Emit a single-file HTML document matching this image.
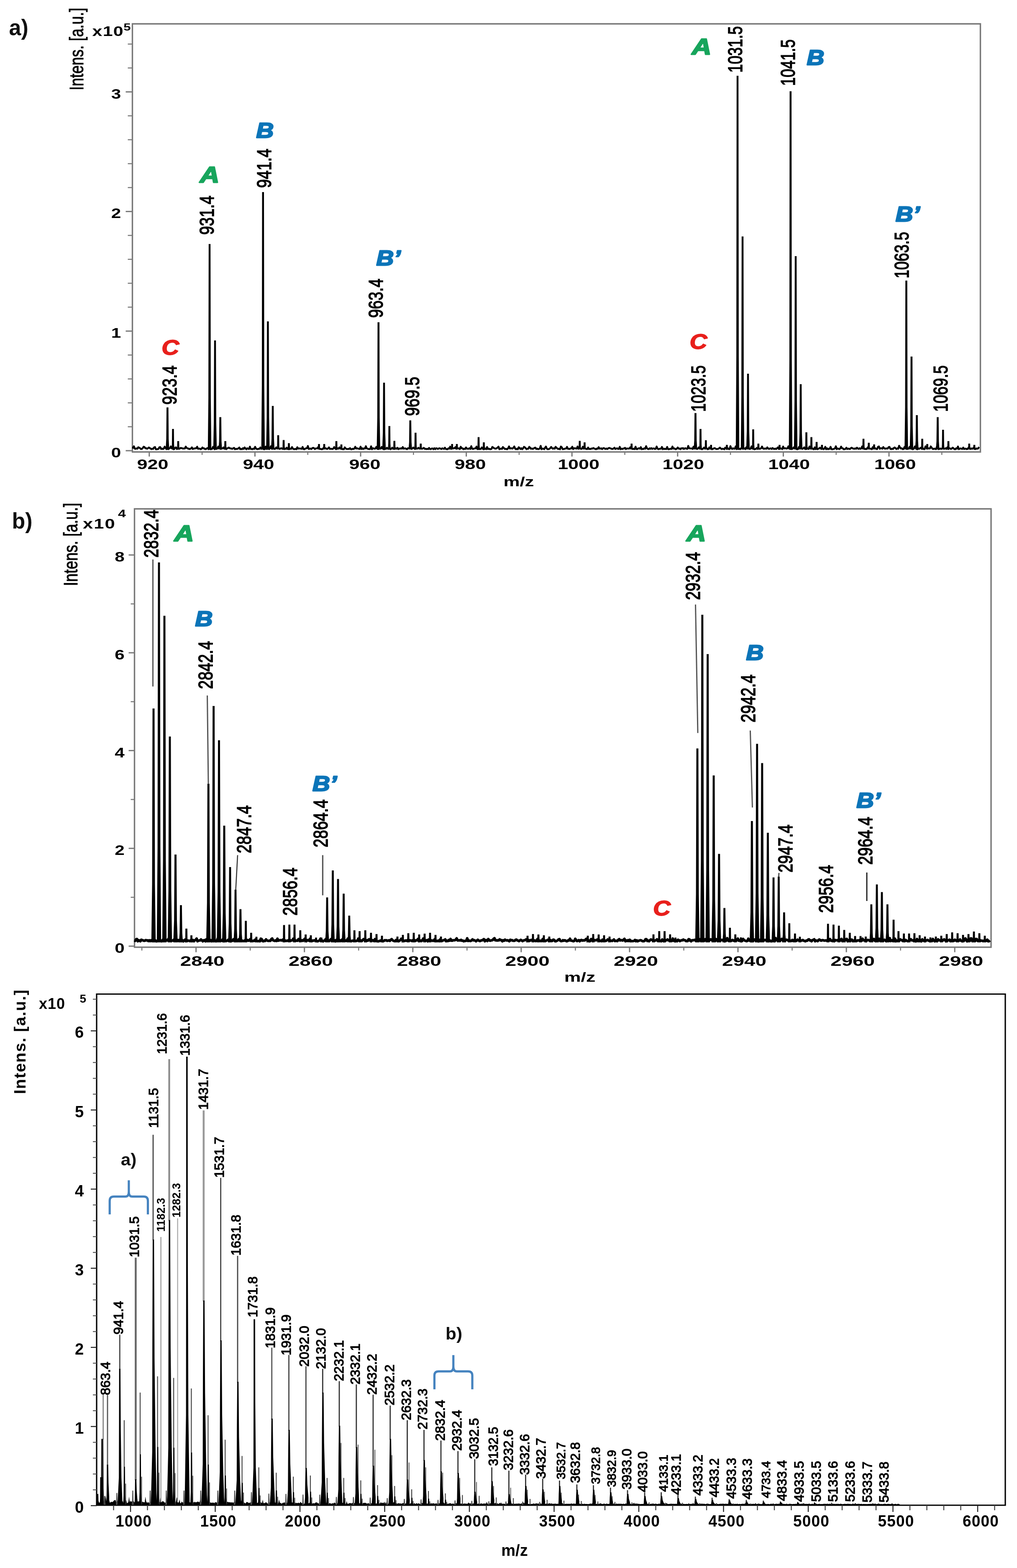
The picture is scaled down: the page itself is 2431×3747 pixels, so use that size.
<!DOCTYPE html>
<html lang="en"><head><meta charset="utf-8"><title>MALDI-TOF mass spectra</title>
<style>
html,body{margin:0;padding:0;background:#fff;}
body{width:2431px;height:3747px;overflow:hidden;}
svg{display:block;font-family:"Liberation Sans","DejaVu Sans",sans-serif;}
</style></head><body>
<svg width="2431" height="3747" viewBox="0 0 2431 3747">
<rect width="2431" height="3747" fill="#fff"/>
<g id="pa">
<path d="M316.5 1080 L316.5 57 L2343.5 57 L2343.5 1080 Z" fill="none" stroke="#787878" stroke-width="3.4"/>
<line x1="300.5" y1="1077" x2="316.5" y2="1077" stroke="#787878" stroke-width="3"/>
<line x1="305.5" y1="1019.8" x2="316.5" y2="1019.8" stroke="#787878" stroke-width="2.5"/>
<line x1="305.5" y1="962.7" x2="316.5" y2="962.7" stroke="#787878" stroke-width="2.5"/>
<line x1="305.5" y1="905.5" x2="316.5" y2="905.5" stroke="#787878" stroke-width="2.5"/>
<line x1="305.5" y1="848.4" x2="316.5" y2="848.4" stroke="#787878" stroke-width="2.5"/>
<line x1="300.5" y1="791.2" x2="316.5" y2="791.2" stroke="#787878" stroke-width="3"/>
<line x1="305.5" y1="734" x2="316.5" y2="734" stroke="#787878" stroke-width="2.5"/>
<line x1="305.5" y1="676.9" x2="316.5" y2="676.9" stroke="#787878" stroke-width="2.5"/>
<line x1="305.5" y1="619.7" x2="316.5" y2="619.7" stroke="#787878" stroke-width="2.5"/>
<line x1="305.5" y1="562.6" x2="316.5" y2="562.6" stroke="#787878" stroke-width="2.5"/>
<line x1="300.5" y1="505.4" x2="316.5" y2="505.4" stroke="#787878" stroke-width="3"/>
<line x1="305.5" y1="448.2" x2="316.5" y2="448.2" stroke="#787878" stroke-width="2.5"/>
<line x1="305.5" y1="391.1" x2="316.5" y2="391.1" stroke="#787878" stroke-width="2.5"/>
<line x1="305.5" y1="333.9" x2="316.5" y2="333.9" stroke="#787878" stroke-width="2.5"/>
<line x1="305.5" y1="276.8" x2="316.5" y2="276.8" stroke="#787878" stroke-width="2.5"/>
<line x1="300.5" y1="219.6" x2="316.5" y2="219.6" stroke="#787878" stroke-width="3"/>
<line x1="305.5" y1="162.4" x2="316.5" y2="162.4" stroke="#787878" stroke-width="2.5"/>
<line x1="305.5" y1="105.3" x2="316.5" y2="105.3" stroke="#787878" stroke-width="2.5"/>
<text transform="translate(277.5 1093) scale(1.3 1)" font-size="32.5" font-weight="bold" font-style="normal" fill="#000" text-anchor="middle" >0</text>
<text transform="translate(277.5 807.2) scale(1.3 1)" font-size="32.5" font-weight="bold" font-style="normal" fill="#000" text-anchor="middle" >1</text>
<text transform="translate(277.5 521.4) scale(1.3 1)" font-size="32.5" font-weight="bold" font-style="normal" fill="#000" text-anchor="middle" >2</text>
<text transform="translate(277.5 235.6) scale(1.3 1)" font-size="32.5" font-weight="bold" font-style="normal" fill="#000" text-anchor="middle" >3</text>
<line x1="356.8" y1="1080" x2="356.8" y2="1091" stroke="#787878" stroke-width="3"/>
<line x1="483.1" y1="1080" x2="483.1" y2="1087" stroke="#787878" stroke-width="2.5"/>
<line x1="609.4" y1="1080" x2="609.4" y2="1091" stroke="#787878" stroke-width="3"/>
<line x1="735.7" y1="1080" x2="735.7" y2="1087" stroke="#787878" stroke-width="2.5"/>
<line x1="862" y1="1080" x2="862" y2="1091" stroke="#787878" stroke-width="3"/>
<line x1="988.3" y1="1080" x2="988.3" y2="1087" stroke="#787878" stroke-width="2.5"/>
<line x1="1114.6" y1="1080" x2="1114.6" y2="1091" stroke="#787878" stroke-width="3"/>
<line x1="1240.9" y1="1080" x2="1240.9" y2="1087" stroke="#787878" stroke-width="2.5"/>
<line x1="1367.2" y1="1080" x2="1367.2" y2="1091" stroke="#787878" stroke-width="3"/>
<line x1="1493.5" y1="1080" x2="1493.5" y2="1087" stroke="#787878" stroke-width="2.5"/>
<line x1="1619.8" y1="1080" x2="1619.8" y2="1091" stroke="#787878" stroke-width="3"/>
<line x1="1746.1" y1="1080" x2="1746.1" y2="1087" stroke="#787878" stroke-width="2.5"/>
<line x1="1872.4" y1="1080" x2="1872.4" y2="1091" stroke="#787878" stroke-width="3"/>
<line x1="1998.7" y1="1080" x2="1998.7" y2="1087" stroke="#787878" stroke-width="2.5"/>
<line x1="2125" y1="1080" x2="2125" y2="1091" stroke="#787878" stroke-width="3"/>
<line x1="2251.3" y1="1080" x2="2251.3" y2="1087" stroke="#787878" stroke-width="2.5"/>
<text transform="translate(365 1121.3) scale(1.38 1)" font-size="32.5" font-weight="bold" font-style="normal" fill="#000" text-anchor="middle" >920</text>
<text transform="translate(618 1121.3) scale(1.38 1)" font-size="32.5" font-weight="bold" font-style="normal" fill="#000" text-anchor="middle" >940</text>
<text transform="translate(872 1121.3) scale(1.38 1)" font-size="32.5" font-weight="bold" font-style="normal" fill="#000" text-anchor="middle" >960</text>
<text transform="translate(1124 1121.3) scale(1.38 1)" font-size="32.5" font-weight="bold" font-style="normal" fill="#000" text-anchor="middle" >980</text>
<text transform="translate(1383 1121.3) scale(1.38 1)" font-size="32.5" font-weight="bold" font-style="normal" fill="#000" text-anchor="middle" >1000</text>
<text transform="translate(1633.3 1121.3) scale(1.38 1)" font-size="32.5" font-weight="bold" font-style="normal" fill="#000" text-anchor="middle" >1020</text>
<text transform="translate(1886 1121.3) scale(1.38 1)" font-size="32.5" font-weight="bold" font-style="normal" fill="#000" text-anchor="middle" >1040</text>
<text transform="translate(2139.6 1121.3) scale(1.38 1)" font-size="32.5" font-weight="bold" font-style="normal" fill="#000" text-anchor="middle" >1060</text>
<text transform="translate(1240 1162) scale(1.37 1)" font-size="32" font-weight="bold" font-style="normal" fill="#000" text-anchor="middle" >m/z</text>
<path d="M318 1072.3 L318 1068.9 L320.1 1066.6 L322.2 1072.3 L324.3 1072.5 L326.4 1071.5 L328.5 1072.3 L330.6 1068.7 L332.7 1069.9 L334.8 1071.2 L336.9 1073.1 L339 1072.8 L341.1 1071.1 L343.2 1067.6 L345.3 1068.2 L347.4 1071.4 L349.5 1071 L351.6 1072.4 L353.7 1071.2 L355.8 1069.3 L357.9 1070.6 L360 1072.1 L362.1 1073.2 L364.2 1072.3 L366.3 1072.7 L368.4 1069 L370.5 1068.2 L372.6 1073.6 L374.7 1073.6 L376.8 1073.2 L378.9 1072.8 L381 1068.7 L383.1 1068.4 L385.2 1073 L387.3 1072 L389.4 1073.2 L391.5 1072 L393.6 1067.4 L395.7 1070 L397.8 1073.4 L399.9 1072.2 L402 1073.5 L404.1 1072 L406.2 1070.8 L408.3 1066.7 L410.4 1071.2 L412.5 1071.9 L414.6 1073.5 L416.7 1073 L418.8 1069.6 L420.9 1069.2 L423 1073.1 L425.1 1071.5 L427.2 1072.5 L429.3 1072.2 L431.4 1070.5 L433.5 1070.6 L435.6 1071.3 L437.7 1072.1 L439.8 1071.6 L441.9 1071.7 L444 1067.2 L446.1 1070.4 L448.2 1071.5 L450.3 1072 L452.4 1073.2 L454.5 1072.7 L456.6 1071.6 L458.7 1069.2 L460.8 1073 L462.9 1071.9 L465 1071.8 L467.1 1071.2 L469.2 1071.2 L471.3 1067.5 L473.4 1072.6 L475.5 1072 L477.6 1072.2 L479.7 1073.5 L481.8 1072.3 L483.9 1069.2 L486 1071.5 L488.1 1071.4 L490.2 1073.4 L492.3 1073.1 L494.4 1071.6 L496.5 1070.6 L498.6 1073.4 L500.7 1071.5 L502.8 1073.5 L504.9 1073.3 L507 1072.6 L509.1 1067.9 L511.2 1071.1 L513.3 1073.5 L515.4 1071.6 L517.5 1072.8 L519.6 1071.7 L521.7 1067.3 L523.8 1071.8 L525.9 1071.5 L528 1072.9 L530.1 1071.2 L532.2 1071.6 L534.3 1069.2 L536.4 1072.6 L538.5 1071.7 L540.6 1073.4 L542.7 1071.5 L544.8 1071 L546.9 1069.4 L549 1071.2 L551.1 1071.5 L553.2 1072 L555.3 1072.5 L557.4 1071.3 L559.5 1070.2 L561.6 1073.5 L563.7 1072.7 L565.8 1072.8 L567.9 1072.5 L570 1071.4 L572.1 1069.4 L574.2 1073.4 L576.3 1072.8 L578.4 1073.5 L580.5 1071.1 L582.6 1072.7 L584.7 1069.2 L586.8 1071.8 L588.9 1073.6 L591 1071.2 L593.1 1072.4 L595.2 1072.9 L597.3 1067.4 L599.4 1072.8 L601.5 1073.1 L603.6 1073.4 L605.7 1071.9 L607.8 1072.8 L609.9 1067.7 L612 1072.1 L614.1 1073.1 L616.2 1073.2 L618.3 1072.5 L620.4 1072.6 L622.5 1069.3 L624.6 1072.6 L626.7 1071.2 L628.8 1072.7 L630.9 1073.6 L633 1073.3 L635.1 1067.2 L637.2 1072.9 L639.3 1072.5 L641.4 1072.1 L643.5 1073.2 L645.6 1071.2 L647.7 1066.2 L649.8 1072.6 L651.9 1072.3 L654 1071.6 L656.1 1072.8 L658.2 1072.3 L660.3 1069.1 L662.4 1071.7 L664.5 1071 L666.6 1071.8 L668.7 1072.8 L670.8 1071.5 L672.9 1071.1 L675 1072.7 L677.1 1072.1 L679.2 1073.3 L681.3 1071.9 L683.4 1072.7 L685.5 1069.7 L687.6 1073.1 L689.7 1073.4 L691.8 1073.3 L693.9 1072 L696 1072.5 L698.1 1068.4 L700.2 1072.3 L702.3 1073.2 L704.4 1073.2 L706.5 1072.8 L708.6 1073.5 L710.7 1068.7 L712.8 1072.2 L714.9 1071.7 L717 1071.6 L719.1 1072.1 L721.2 1072.6 L723.3 1068.1 L725.4 1073.2 L727.5 1073.6 L729.6 1072.2 L731.7 1071.2 L733.8 1071.1 L735.9 1065.7 L738 1072.8 L740.1 1072.5 L742.2 1071.8 L744.3 1073.1 L746.4 1071 L748.5 1070.1 L750.6 1071.1 L752.7 1073.2 L754.8 1071.6 L756.9 1071.4 L759 1071.1 L761.1 1067.8 L763.2 1072.6 L765.3 1072.7 L767.4 1073.1 L769.5 1073.5 L771.6 1072.8 L773.7 1069.8 L775.8 1071.5 L777.9 1071 L780 1072.2 L782.1 1072.9 L784.2 1071.5 L786.3 1069.2 L788.4 1072.8 L790.5 1072.4 L792.6 1072.6 L794.7 1073 L796.8 1072 L798.9 1068.3 L801 1071.2 L803.1 1073.4 L805.2 1072.9 L807.3 1071.3 L809.4 1072.2 L811.5 1069.1 L813.6 1072 L815.7 1072.5 L817.8 1073.3 L819.9 1073.1 L822 1073.5 L824.1 1069.1 L826.2 1071.5 L828.3 1072.9 L830.4 1073.1 L832.5 1072.7 L834.6 1072.9 L836.7 1070.9 L838.8 1073.5 L840.9 1073.5 L843 1072.4 L845.1 1073.1 L847.2 1071.8 L849.3 1067.6 L851.4 1071.9 L853.5 1071.2 L855.6 1072.1 L857.7 1072.4 L859.8 1073 L861.9 1067.4 L864 1073.1 L866.1 1071.2 L868.2 1073.1 L870.3 1071.4 L872.4 1071.9 L874.5 1066.3 L876.6 1071.4 L878.7 1072.3 L880.8 1072.9 L882.9 1073.2 L885 1072.8 L887.1 1066.5 L889.2 1073.5 L891.3 1071.2 L893.4 1071.6 L895.5 1072.4 L897.6 1071.8 L899.7 1067.9 L901.8 1072.4 L903.9 1073.2 L906 1072.5 L908.1 1071.8 L910.2 1072 L912.3 1068 L914.4 1071.5 L916.5 1073.2 L918.6 1073.5 L920.7 1072.4 L922.8 1072.5 L924.9 1070 L927 1072.3 L929.1 1072.6 L931.2 1071.1 L933.3 1073.5 L935.4 1072.3 L937.5 1069.8 L939.6 1072.5 L941.7 1072.3 L943.8 1072.8 L945.9 1071.2 L948 1072.4 L950.1 1070.1 L952.2 1073.4 L954.3 1071.7 L956.4 1072.2 L958.5 1071.3 L960.6 1072.1 L962.7 1068.2 L964.8 1072.2 L966.9 1071.8 L969 1071.5 L971.1 1072.6 L973.2 1073.4 L975.3 1070.9 L977.4 1071.1 L979.5 1071.5 L981.6 1071.6 L983.7 1072.8 L985.8 1071.8 L987.9 1069.5 L990 1071.3 L992.1 1072.9 L994.2 1071.3 L996.3 1072.3 L998.4 1071.7 L1000.5 1070 L1002.6 1072.1 L1004.7 1072 L1006.8 1072.1 L1008.9 1072.4 L1011 1071.4 L1013.1 1070.2 L1015.2 1072.7 L1017.3 1072.4 L1019.4 1073.2 L1021.5 1072.6 L1023.6 1073.2 L1025.7 1070.4 L1027.8 1073.1 L1029.9 1073.3 L1032 1071.8 L1034.1 1071.8 L1036.2 1073.4 L1038.3 1071.1 L1040.4 1073.3 L1042.5 1071.3 L1044.6 1071.6 L1046.7 1072.9 L1048.8 1071.7 L1050.9 1071.2 L1053 1072.1 L1055.1 1073.1 L1057.2 1071.3 L1059.3 1072 L1061.4 1072.8 L1063.5 1069.9 L1065.6 1072.8 L1067.7 1073.4 L1069.8 1073.5 L1071.9 1071.3 L1074 1072.3 L1076.1 1067.4 L1078.2 1072.8 L1080.3 1071.5 L1082.4 1071.2 L1084.5 1071.3 L1086.6 1071.1 L1088.7 1068.4 L1090.8 1072.5 L1092.9 1071.4 L1095 1071.5 L1097.1 1071.5 L1099.2 1073.2 L1101.3 1067.5 L1103.4 1071.2 L1105.5 1071.2 L1107.6 1073.5 L1109.7 1072.2 L1111.8 1073 L1113.9 1069.2 L1116 1072.3 L1118.1 1072.1 L1120.2 1072.6 L1122.3 1071 L1124.4 1072.8 L1126.5 1066.2 L1128.6 1072.2 L1130.7 1072.9 L1132.8 1072.1 L1134.9 1071.5 L1137 1071.4 L1139.1 1067.2 L1141.2 1073.3 L1143.3 1073.1 L1145.4 1072.8 L1147.5 1073.2 L1149.6 1072.6 L1151.7 1069.2 L1153.8 1072.3 L1155.9 1073.6 L1158 1073.1 L1160.1 1071.7 L1162.2 1073.4 L1164.3 1068.2 L1166.4 1073.1 L1168.5 1072.1 L1170.6 1073.3 L1172.7 1073.3 L1174.8 1072.8 L1176.9 1068 L1179 1069.6 L1181.1 1071.2 L1183.2 1071.9 L1185.3 1072.2 L1187.4 1071 L1189.5 1069.6 L1191.6 1067.3 L1193.7 1073.5 L1195.8 1072.7 L1197.9 1071.9 L1200 1072.7 L1202.1 1068.3 L1204.2 1070.3 L1206.3 1072.7 L1208.4 1072.8 L1210.5 1073 L1212.6 1073.5 L1214.7 1071 L1216.8 1066.8 L1218.9 1072 L1221 1071.1 L1223.1 1071.5 L1225.2 1072 L1227.3 1069.7 L1229.4 1066.9 L1231.5 1072.3 L1233.6 1073.5 L1235.7 1072.5 L1237.8 1073.6 L1239.9 1068.7 L1242 1070.7 L1244.1 1073 L1246.2 1071.1 L1248.3 1073.4 L1250.4 1071.4 L1252.5 1067.8 L1254.6 1068.9 L1256.7 1071.2 L1258.8 1073.5 L1260.9 1072.1 L1263 1072.4 L1265.1 1067.8 L1267.2 1069.9 L1269.3 1072.5 L1271.4 1071.7 L1273.5 1072.9 L1275.6 1071.8 L1277.7 1070.1 L1279.8 1069.7 L1281.9 1073 L1284 1072 L1286.1 1073.3 L1288.2 1072.9 L1290.3 1071.8 L1292.4 1065.4 L1294.5 1073.4 L1296.6 1072.1 L1298.7 1072.2 L1300.8 1073.5 L1302.9 1069.8 L1305 1067.2 L1307.1 1072.2 L1309.2 1073.5 L1311.3 1073.1 L1313.4 1072.6 L1315.5 1070.6 L1317.6 1068 L1319.7 1071.1 L1321.8 1072.4 L1323.9 1071.3 L1326 1072.2 L1328.1 1067.7 L1330.2 1069.8 L1332.3 1072.1 L1334.4 1073 L1336.5 1072.4 L1338.6 1073.6 L1340.7 1067.1 L1342.8 1068.7 L1344.9 1073.3 L1347 1073 L1349.1 1072.6 L1351.2 1071.9 L1353.3 1071.7 L1355.4 1067.9 L1357.5 1072.5 L1359.6 1072.6 L1361.7 1073 L1363.8 1071.5 L1365.9 1071.6 L1368 1067.5 L1370.1 1073.3 L1372.2 1071.1 L1374.3 1071.2 L1376.4 1071.7 L1378.5 1072.1 L1380.6 1067 L1382.7 1072.4 L1384.8 1071.2 L1386.9 1071.2 L1389 1072.8 L1391.1 1072.4 L1393.2 1067.6 L1395.3 1072.2 L1397.4 1071.5 L1399.5 1071.9 L1401.6 1072.9 L1403.7 1073.2 L1405.8 1069.5 L1407.9 1073.1 L1410 1072.6 L1412.1 1073 L1414.2 1071.6 L1416.3 1072.1 L1418.4 1070.4 L1420.5 1072 L1422.6 1072.7 L1424.7 1073.6 L1426.8 1071.8 L1428.9 1072.4 L1431 1068.5 L1433.1 1072.1 L1435.2 1072 L1437.3 1071.3 L1439.4 1073.3 L1441.5 1071.2 L1443.6 1070.6 L1445.7 1072.3 L1447.8 1072.8 L1449.9 1071.8 L1452 1073 L1454.1 1071.2 L1456.2 1070.3 L1458.3 1071.2 L1460.4 1071.8 L1462.5 1072.9 L1464.6 1072.8 L1466.7 1071.7 L1468.8 1069.8 L1470.9 1072.9 L1473 1072 L1475.1 1071.3 L1477.2 1072.8 L1479.3 1072.5 L1481.4 1067.8 L1483.5 1073.4 L1485.6 1072.1 L1487.7 1073.1 L1489.8 1071.8 L1491.9 1071.8 L1494 1070.1 L1496.1 1073.3 L1498.2 1071.6 L1500.3 1071.9 L1502.4 1072 L1504.5 1071.9 L1506.6 1068.7 L1508.7 1071.5 L1510.8 1072.5 L1512.9 1073.1 L1515 1072.4 L1517.1 1073.2 L1519.2 1067.4 L1521.3 1073 L1523.4 1073.3 L1525.5 1071.7 L1527.6 1071.1 L1529.7 1072.3 L1531.8 1068.5 L1533.9 1073.5 L1536 1072.7 L1538.1 1073.1 L1540.2 1071.2 L1542.3 1072.4 L1544.4 1066.2 L1546.5 1071.2 L1548.6 1072.9 L1550.7 1073.3 L1552.8 1071.2 L1554.9 1072.6 L1557 1070.8 L1559.1 1072.7 L1561.2 1071.6 L1563.3 1071.6 L1565.4 1073 L1567.5 1072.4 L1569.6 1067.1 L1571.7 1071.9 L1573.8 1073.5 L1575.9 1072.7 L1578 1072.3 L1580.1 1072.4 L1582.2 1068.1 L1584.3 1073.4 L1586.4 1072.1 L1588.5 1073.1 L1590.6 1072.7 L1592.7 1073.2 L1594.8 1068 L1596.9 1073.3 L1599 1073.5 L1601.1 1072.7 L1603.2 1072.4 L1605.3 1072.8 L1607.4 1067 L1609.5 1072.1 L1611.6 1071.4 L1613.7 1072.9 L1615.8 1073.6 L1617.9 1072 L1620 1069.3 L1622.1 1072.1 L1624.2 1071.8 L1626.3 1073.5 L1628.4 1071.2 L1630.5 1071.8 L1632.6 1070.7 L1634.7 1073 L1636.8 1071.5 L1638.9 1071.2 L1641 1072.2 L1643.1 1072.5 L1645.2 1065.5 L1647.3 1071.3 L1649.4 1071.5 L1651.5 1071.6 L1653.6 1071.6 L1655.7 1072.9 L1657.8 1067.4 L1659.9 1071.5 L1662 1071.7 L1664.1 1071.4 L1666.2 1073 L1668.3 1071.8 L1670.4 1069.2 L1672.5 1072.2 L1674.6 1071.7 L1676.7 1073.3 L1678.8 1073.4 L1680.9 1071.9 L1683 1069.5 L1685.1 1072.3 L1687.2 1071.6 L1689.3 1071.1 L1691.4 1073.5 L1693.5 1073.1 L1695.6 1069.1 L1697.7 1072.3 L1699.8 1071.7 L1701.9 1073.6 L1704 1072.7 L1706.1 1071.6 L1708.2 1070.7 L1710.3 1072 L1712.4 1073.1 L1714.5 1072.9 L1716.6 1072.6 L1718.7 1071.4 L1720.8 1069.6 L1722.9 1071.7 L1725 1073.3 L1727.1 1072.3 L1729.2 1072.7 L1731.3 1073.6 L1733.4 1069.7 L1735.5 1071.4 L1737.6 1073 L1739.7 1071 L1741.8 1073.1 L1743.9 1073.2 L1746 1066 L1748.1 1071.7 L1750.2 1072.9 L1752.3 1071.3 L1754.4 1072.2 L1756.5 1072.2 L1758.6 1066.7 L1760.7 1073.2 L1762.8 1071.8 L1764.9 1073.1 L1767 1072.1 L1769.1 1073.4 L1771.2 1071.2 L1773.3 1071.5 L1775.4 1072.4 L1777.5 1072.4 L1779.6 1071.4 L1781.7 1073.2 L1783.8 1068.9 L1785.9 1071.2 L1788 1071.8 L1790.1 1072.2 L1792.2 1072.9 L1794.3 1071.9 L1796.4 1066.7 L1798.5 1072 L1800.6 1072.2 L1802.7 1073.5 L1804.8 1073.2 L1806.9 1072.7 L1809 1070.4 L1811.1 1072.8 L1813.2 1071.6 L1815.3 1072.5 L1817.4 1072.2 L1819.5 1071 L1821.6 1067.1 L1823.7 1071.5 L1825.8 1072.6 L1827.9 1071.8 L1830 1072 L1832.1 1072.4 L1834.2 1069 L1836.3 1072 L1838.4 1072.7 L1840.5 1071.7 L1842.6 1071.5 L1844.7 1072.9 L1846.8 1070.5 L1848.9 1072.5 L1851 1072.9 L1853.1 1071.9 L1855.2 1073.1 L1857.3 1071.2 L1859.4 1069.1 L1861.5 1072.8 L1863.6 1072.8 L1865.7 1071.5 L1867.8 1072 L1869.9 1073.2 L1872 1067.1 L1874.1 1071.6 L1876.2 1071.4 L1878.3 1071.3 L1880.4 1072.1 L1882.5 1071.2 L1884.6 1066.5 L1886.7 1072.3 L1888.8 1072.7 L1890.9 1073 L1893 1073.1 L1895.1 1072 L1897.2 1069.1 L1899.3 1071 L1901.4 1072 L1903.5 1072.8 L1905.6 1073.6 L1907.7 1073.1 L1909.8 1068.1 L1911.9 1071 L1914 1071.9 L1916.1 1071.9 L1918.2 1072.7 L1920.3 1071.3 L1922.4 1069.1 L1924.5 1073.1 L1926.6 1073.1 L1928.7 1072.6 L1930.8 1071.4 L1932.9 1073 L1935 1066.9 L1937.1 1071.9 L1939.2 1072.3 L1941.3 1071.4 L1943.4 1072.9 L1945.5 1073.6 L1947.6 1069 L1949.7 1073.2 L1951.8 1071.5 L1953.9 1073.5 L1956 1072.6 L1958.1 1071.5 L1960.2 1069.8 L1962.3 1072.5 L1964.4 1072.8 L1966.5 1071.9 L1968.6 1073.4 L1970.7 1071.9 L1972.8 1067.7 L1974.9 1073.5 L1977 1071.4 L1979.1 1073.4 L1981.2 1072.4 L1983.3 1072.5 L1985.4 1067.7 L1987.5 1073.4 L1989.6 1073.6 L1991.7 1073.1 L1993.8 1072.6 L1995.9 1071.3 L1998 1066.5 L2000.1 1073.3 L2002.2 1071.6 L2004.3 1072.5 L2006.4 1073.2 L2008.5 1071.5 L2010.6 1067.2 L2012.7 1071.1 L2014.8 1071.5 L2016.9 1073.6 L2019 1073.4 L2021.1 1072.7 L2023.2 1069.9 L2025.3 1072.9 L2027.4 1072 L2029.5 1072.5 L2031.6 1073.1 L2033.7 1071 L2035.8 1069.8 L2037.9 1071.4 L2040 1072 L2042.1 1072.5 L2044.2 1071.5 L2046.3 1072.4 L2048.4 1069.8 L2050.5 1071.9 L2052.6 1072.7 L2054.7 1071.1 L2056.8 1072.7 L2058.9 1071.4 L2061 1066.7 L2063.1 1068.5 L2065.2 1072.6 L2067.3 1072.8 L2069.4 1073 L2071.5 1073 L2073.6 1069.9 L2075.7 1068 L2077.8 1072.1 L2079.9 1072.1 L2082 1072.5 L2084.1 1073.4 L2086.2 1068.5 L2088.3 1069.9 L2090.4 1071.8 L2092.5 1071.1 L2094.6 1072.9 L2096.7 1073.3 L2098.8 1067.8 L2100.9 1066.9 L2103 1072.5 L2105.1 1071.2 L2107.2 1071.3 L2109.3 1072.2 L2111.4 1068.3 L2113.5 1071.1 L2115.6 1072.4 L2117.7 1071.6 L2119.8 1071.8 L2121.9 1072 L2124 1068.6 L2126.1 1067.9 L2128.2 1072.7 L2130.3 1073.3 L2132.4 1072.1 L2134.5 1073.1 L2136.6 1070.4 L2138.7 1069.3 L2140.8 1071.3 L2142.9 1073.1 L2145 1071.3 L2147.1 1072.4 L2149.2 1065.2 L2151.3 1069.2 L2153.4 1071.8 L2155.5 1071.2 L2157.6 1073.3 L2159.7 1073.1 L2161.8 1068.6 L2163.9 1067 L2166 1071.1 L2168.1 1073.3 L2170.2 1071.8 L2172.3 1072.3 L2174.4 1067.8 L2176.5 1067.9 L2178.6 1071.8 L2180.7 1073.4 L2182.8 1073.3 L2184.9 1071.5 L2187 1066.7 L2189.1 1067.8 L2191.2 1073.3 L2193.3 1073.6 L2195.4 1071.5 L2197.5 1072.6 L2199.6 1070.9 L2201.7 1069.6 L2203.8 1072.9 L2205.9 1071.8 L2208 1073.3 L2210.1 1073.3 L2212.2 1066.6 L2214.3 1068.8 L2216.4 1072.2 L2218.5 1071.2 L2220.6 1071.6 L2222.7 1071.8 L2224.8 1066.8 L2226.9 1069.3 L2229 1072.7 L2231.1 1073.1 L2233.2 1072 L2235.3 1072.7 L2237.4 1073.3 L2239.5 1067.4 L2241.6 1071.8 L2243.7 1073.4 L2245.8 1072.7 L2247.9 1071.7 L2250 1072.7 L2252.1 1071.7 L2254.2 1072.1 L2256.3 1072.4 L2258.4 1072.4 L2260.5 1071.1 L2262.6 1072.6 L2264.7 1068.9 L2266.8 1073.1 L2268.9 1071.2 L2271 1071.7 L2273.1 1073 L2275.2 1071.6 L2277.3 1069.7 L2279.4 1071.5 L2281.5 1073.3 L2283.6 1073.6 L2285.7 1071.1 L2287.8 1072.2 L2289.9 1067.1 L2292 1073.4 L2294.1 1072.3 L2296.2 1071.5 L2298.3 1072.4 L2300.4 1072.7 L2302.5 1069.6 L2304.6 1073 L2306.7 1072.3 L2308.8 1072.3 L2310.9 1073.2 L2313 1072.8 L2315.1 1069.6 L2317.2 1071.5 L2319.3 1073 L2321.4 1071.4 L2323.5 1072.6 L2325.6 1071.6 L2327.7 1069.5 L2329.8 1073 L2331.9 1073.1 L2334 1071.6 L2336.1 1072.3 L2338.2 1071.6 L2340.3 1068.2" fill="none" stroke="#000" stroke-width="4.4" stroke-linejoin="round"/>
<path d="M398.1 973.5 L402.6 973.5 L403.2 1048.9 L404.5 1074 L396.1 1074 L397.4 1048.9Z M411.3 1025 L415.7 1025 L416.1 1061.8 L416.9 1074 L410.1 1074 L410.9 1061.8Z M423.8 1054 L428.2 1054 L428.6 1069 L429.4 1074 L422.6 1074 L423.4 1069Z M498.8 583 L503.2 583 L503.9 951.2 L505.2 1074 L496.8 1074 L498.1 951.2Z M511.8 813.6 L516.2 813.6 L516.9 1008.9 L518.2 1074 L509.8 1074 L511.1 1008.9Z M524.4 996.8 L528.9 996.8 L529.5 1054.7 L530.8 1074 L522.4 1074 L523.7 1054.7Z M536.4 1054 L540.8 1054 L541.2 1069 L542 1074 L535.2 1074 L536 1069Z M626.5 459 L631 459 L631.7 920.2 L633 1074 L624.6 1074 L625.9 920.2Z M638.1 768 L642.6 768 L643.3 997.5 L644.6 1074 L636.2 1074 L637.5 997.5Z M649.8 970 L654.2 970 L654.9 1048 L656.2 1074 L647.8 1074 L649.1 1048Z M662.8 1040 L667.2 1040 L667.6 1065.5 L668.4 1074 L661.6 1074 L662.4 1065.5Z M675.8 1051.6 L680.2 1051.6 L680.6 1068.4 L681.4 1074 L674.6 1074 L675.4 1068.4Z M688.3 1059 L692.7 1059 L693.1 1070.2 L693.9 1074 L687.1 1074 L687.9 1070.2Z M760.3 1061 L764.7 1061 L765.1 1070.8 L765.9 1074 L759.1 1074 L759.9 1070.8Z M772.8 1061 L777.2 1061 L777.6 1070.8 L778.4 1074 L771.6 1074 L772.4 1070.8Z M801.8 1054 L806.2 1054 L806.6 1069 L807.4 1074 L800.6 1074 L801.4 1069Z M813.8 1062 L818.2 1062 L818.6 1071 L819.4 1074 L812.6 1074 L813.4 1071Z M902.5 770 L907 770 L907.6 998 L908.9 1074 L900.5 1074 L901.8 998Z M915.8 914.4 L920.2 914.4 L920.9 1034.1 L922.2 1074 L913.8 1074 L915.1 1034.1Z M928.5 1018 L932.9 1018 L933.3 1060 L934.1 1074 L927.3 1074 L928.1 1060Z M940.5 1053.5 L944.9 1053.5 L945.3 1068.9 L946.1 1074 L939.3 1074 L940.1 1068.9Z M978.5 1004.6 L983 1004.6 L983.7 1056.7 L985 1074 L976.6 1074 L977.9 1056.7Z M991.1 1034 L995.5 1034 L995.9 1064 L996.7 1074 L989.9 1074 L990.7 1064Z M1003.5 1060 L1007.9 1060 L1008.3 1070.5 L1009.1 1074 L1002.3 1074 L1003.1 1070.5Z M1078.5 1061 L1082.9 1061 L1083.3 1070.8 L1084.1 1074 L1077.3 1074 L1078.1 1070.8Z M1089.8 1061 L1094.2 1061 L1094.6 1070.8 L1095.4 1074 L1088.6 1074 L1089.4 1070.8Z M1141.8 1044.6 L1146.2 1044.6 L1146.6 1066.7 L1147.4 1074 L1140.6 1074 L1141.4 1066.7Z M1154.3 1057 L1158.7 1057 L1159.1 1069.8 L1159.9 1074 L1153.1 1074 L1153.9 1069.8Z M1383.6 1053.5 L1388 1053.5 L1388.4 1068.9 L1389.2 1074 L1382.4 1074 L1383.2 1068.9Z M1395.2 1057 L1399.6 1057 L1400 1069.8 L1400.8 1074 L1394 1074 L1394.8 1069.8Z M1507.5 1060 L1511.9 1060 L1512.3 1070.5 L1513.1 1074 L1506.3 1074 L1507.1 1070.5Z M1660.2 987 L1664.7 987 L1665.3 1052.2 L1666.6 1074 L1658.2 1074 L1659.5 1052.2Z M1672.3 1025 L1676.7 1025 L1677.1 1061.8 L1677.9 1074 L1671.1 1074 L1671.9 1061.8Z M1685.1 1052 L1689.5 1052 L1689.9 1068.5 L1690.7 1074 L1683.9 1074 L1684.7 1068.5Z M1697.5 1063 L1701.9 1063 L1702.3 1071.2 L1703.1 1074 L1696.3 1074 L1697.1 1071.2Z M1735.2 1063 L1739.6 1063 L1740 1071.2 L1740.8 1074 L1734 1074 L1734.8 1071.2Z M1760.8 181 L1765.2 181 L1765.9 850.8 L1767.2 1074 L1758.8 1074 L1760.1 850.8Z M1772.8 565 L1777.2 565 L1777.9 946.8 L1779.2 1074 L1770.8 1074 L1772.1 946.8Z M1785.8 893 L1790.2 893 L1790.9 1028.8 L1792.2 1074 L1783.8 1074 L1785.1 1028.8Z M1798.2 1026 L1802.6 1026 L1803 1062 L1803.8 1074 L1797 1074 L1797.8 1062Z M1810.6 1060 L1815 1060 L1815.4 1070.5 L1816.2 1074 L1809.4 1074 L1810.2 1070.5Z M1861.2 1063 L1865.6 1063 L1866 1071.2 L1866.8 1074 L1860 1074 L1860.8 1071.2Z M1887.5 218 L1892 218 L1892.7 860 L1894 1074 L1885.6 1074 L1886.9 860Z M1899.8 612 L1904.2 612 L1904.9 958.5 L1906.2 1074 L1897.8 1074 L1899.1 958.5Z M1911.8 918 L1916.2 918 L1916.9 1035 L1918.2 1074 L1909.8 1074 L1911.1 1035Z M1925.3 1033 L1929.7 1033 L1930.1 1063.8 L1930.9 1074 L1924.1 1074 L1924.9 1063.8Z M1937.3 1044.6 L1941.7 1044.6 L1942.1 1066.7 L1942.9 1074 L1936.1 1074 L1936.9 1066.7Z M1949.8 1056 L1954.2 1056 L1954.6 1069.5 L1955.4 1074 L1948.6 1074 L1949.4 1069.5Z M1962.6 1063 L1967 1063 L1967.4 1071.2 L1968.2 1074 L1961.4 1074 L1962.2 1071.2Z M2061.8 1048.5 L2066.2 1048.5 L2066.6 1067.6 L2067.4 1074 L2060.6 1074 L2061.4 1067.6Z M2074.5 1058 L2078.9 1058 L2079.3 1070 L2080.1 1074 L2073.3 1074 L2074.1 1070Z M2087.3 1062 L2091.7 1062 L2092.1 1071 L2092.9 1074 L2086.1 1074 L2086.9 1071Z M2164.2 670.4 L2168.7 670.4 L2169.3 973.1 L2170.6 1074 L2162.2 1074 L2163.5 973.1Z M2176.6 852 L2181.1 852 L2181.7 1018.5 L2183 1074 L2174.6 1074 L2175.9 1018.5Z M2189.3 992 L2193.8 992 L2194.5 1053.5 L2195.8 1074 L2187.4 1074 L2188.7 1053.5Z M2202.3 1048.5 L2206.7 1048.5 L2207.1 1067.6 L2207.9 1074 L2201.1 1074 L2201.9 1067.6Z M2214.3 1061 L2218.7 1061 L2219.1 1070.8 L2219.9 1074 L2213.1 1074 L2213.9 1070.8Z M2239.2 996.8 L2243.7 996.8 L2244.3 1054.7 L2245.6 1074 L2237.2 1074 L2238.5 1054.7Z M2252 1027 L2256.4 1027 L2256.8 1062.2 L2257.6 1074 L2250.8 1074 L2251.6 1062.2Z M2264.8 1054 L2269.2 1054 L2269.6 1069 L2270.4 1074 L2263.6 1074 L2264.4 1069Z M2314.6 1060 L2319 1060 L2319.4 1070.5 L2320.2 1074 L2313.4 1074 L2314.2 1070.5Z M2326.8 1063 L2331.2 1063 L2331.6 1071.2 L2332.4 1074 L2325.6 1074 L2326.4 1071.2Z" fill="#000"/>
<text transform="translate(421.5 967) rotate(-90) scale(0.78 1)" font-size="48" font-weight="normal" fill="#000" stroke="#000" stroke-width="1.7">923.4</text>
<text transform="translate(510.9 561) rotate(-90) scale(0.78 1)" font-size="48" font-weight="normal" fill="#000" stroke="#000" stroke-width="1.7">931.4</text>
<text transform="translate(648.2 449) rotate(-90) scale(0.78 1)" font-size="48" font-weight="normal" fill="#000" stroke="#000" stroke-width="1.7">941.4</text>
<text transform="translate(915 759.6) rotate(-90) scale(0.78 1)" font-size="48" font-weight="normal" fill="#000" stroke="#000" stroke-width="1.7">963.4</text>
<text transform="translate(1001.5 994) rotate(-90) scale(0.78 1)" font-size="48" font-weight="normal" fill="#000" stroke="#000" stroke-width="1.7">969.5</text>
<text transform="translate(1773.5 173.5) rotate(-90) scale(0.755 1)" font-size="48" font-weight="normal" fill="#000" stroke="#000" stroke-width="1.7">1031.5</text>
<text transform="translate(1899.5 205) rotate(-90) scale(0.755 1)" font-size="48" font-weight="normal" fill="#000" stroke="#000" stroke-width="1.7">1041.5</text>
<text transform="translate(2171.5 665) rotate(-90) scale(0.755 1)" font-size="48" font-weight="normal" fill="#000" stroke="#000" stroke-width="1.7">1063.5</text>
<text transform="translate(1686 984) rotate(-90) scale(0.755 1)" font-size="48" font-weight="normal" fill="#000" stroke="#000" stroke-width="1.7">1023.5</text>
<text transform="translate(2265 984) rotate(-90) scale(0.755 1)" font-size="48" font-weight="normal" fill="#000" stroke="#000" stroke-width="1.7">1069.5</text>
<text transform="translate(407.1 847.5) scale(1.16 1)" font-size="50" font-weight="bold" font-style="italic" fill="#e8201c" text-anchor="middle" stroke="#e8201c" stroke-width="1.8" stroke-linejoin="round">C</text>
<text transform="translate(501 435.5) scale(1.22 1)" font-size="53" font-weight="bold" font-style="italic" fill="#17a55c" text-anchor="middle" stroke="#17a55c" stroke-width="2.8" stroke-linejoin="round">A</text>
<text transform="translate(633.5 329) scale(1.16 1)" font-size="50" font-weight="bold" font-style="italic" fill="#0b74b8" text-anchor="middle" stroke="#0b74b8" stroke-width="2.8" stroke-linejoin="round">B</text>
<text transform="translate(928.5 633.5) scale(1.16 1)" font-size="50" font-weight="bold" font-style="italic" fill="#0b74b8" text-anchor="middle" stroke="#0b74b8" stroke-width="2.8" stroke-linejoin="round">B’</text>
<text transform="translate(1677.2 129.5) scale(1.22 1)" font-size="53" font-weight="bold" font-style="italic" fill="#17a55c" text-anchor="middle" stroke="#17a55c" stroke-width="2.8" stroke-linejoin="round">A</text>
<text transform="translate(1949.5 155.3) scale(1.16 1)" font-size="50" font-weight="bold" font-style="italic" fill="#0b74b8" text-anchor="middle" stroke="#0b74b8" stroke-width="2.8" stroke-linejoin="round">B</text>
<text transform="translate(2169.8 528.5) scale(1.16 1)" font-size="50" font-weight="bold" font-style="italic" fill="#0b74b8" text-anchor="middle" stroke="#0b74b8" stroke-width="2.8" stroke-linejoin="round">B’</text>
<text transform="translate(1669.4 833.5) scale(1.16 1)" font-size="50" font-weight="bold" font-style="italic" fill="#e8201c" text-anchor="middle" stroke="#e8201c" stroke-width="1.8" stroke-linejoin="round">C</text>
<text transform="translate(21.5 83.5) scale(0.98 1)" font-size="53" font-weight="bold" font-style="normal" fill="#111" text-anchor="start" >a)</text>
<text transform="translate(198.5 216) rotate(-90) scale(0.78 1)" font-size="46" font-weight="normal" fill="#000" stroke="#000" stroke-width="1.1">Intens. [a.u.]</text>
<text transform="translate(220.5 86) scale(1.3 1)" font-size="33" font-weight="bold" font-style="normal" fill="#000" text-anchor="start" letter-spacing="1">x10</text>
<text transform="translate(304 73) scale(1.3 1)" font-size="24" font-weight="bold" font-style="normal" fill="#000" text-anchor="middle" >5</text>
</g>
<g id="pb">
<path d="M321.5 2263.5 L321.5 1216 L2369 1216 L2369 2263.5 Z" fill="none" stroke="#787878" stroke-width="3.4"/>
<line x1="307.5" y1="2261" x2="321.5" y2="2261" stroke="#787878" stroke-width="3"/>
<line x1="312.5" y1="2144.2" x2="321.5" y2="2144.2" stroke="#787878" stroke-width="2.5"/>
<line x1="307.5" y1="2027.3" x2="321.5" y2="2027.3" stroke="#787878" stroke-width="3"/>
<line x1="312.5" y1="1910.5" x2="321.5" y2="1910.5" stroke="#787878" stroke-width="2.5"/>
<line x1="307.5" y1="1793.6" x2="321.5" y2="1793.6" stroke="#787878" stroke-width="3"/>
<line x1="312.5" y1="1676.8" x2="321.5" y2="1676.8" stroke="#787878" stroke-width="2.5"/>
<line x1="307.5" y1="1559.9" x2="321.5" y2="1559.9" stroke="#787878" stroke-width="3"/>
<line x1="312.5" y1="1443.1" x2="321.5" y2="1443.1" stroke="#787878" stroke-width="2.5"/>
<line x1="307.5" y1="1326.2" x2="321.5" y2="1326.2" stroke="#787878" stroke-width="3"/>
<text transform="translate(286 2277) scale(1.3 1)" font-size="32.5" font-weight="bold" font-style="normal" fill="#000" text-anchor="middle" >0</text>
<text transform="translate(286 2043.3) scale(1.3 1)" font-size="32.5" font-weight="bold" font-style="normal" fill="#000" text-anchor="middle" >2</text>
<text transform="translate(286 1809.6) scale(1.3 1)" font-size="32.5" font-weight="bold" font-style="normal" fill="#000" text-anchor="middle" >4</text>
<text transform="translate(286 1575.9) scale(1.3 1)" font-size="32.5" font-weight="bold" font-style="normal" fill="#000" text-anchor="middle" >6</text>
<text transform="translate(286 1342.2) scale(1.3 1)" font-size="32.5" font-weight="bold" font-style="normal" fill="#000" text-anchor="middle" >8</text>
<line x1="339.1" y1="2263.5" x2="339.1" y2="2271.5" stroke="#787878" stroke-width="2.5"/>
<line x1="468.6" y1="2263.5" x2="468.6" y2="2275.5" stroke="#787878" stroke-width="3"/>
<line x1="598.1" y1="2263.5" x2="598.1" y2="2271.5" stroke="#787878" stroke-width="2.5"/>
<line x1="727.7" y1="2263.5" x2="727.7" y2="2275.5" stroke="#787878" stroke-width="3"/>
<line x1="857.2" y1="2263.5" x2="857.2" y2="2271.5" stroke="#787878" stroke-width="2.5"/>
<line x1="986.8" y1="2263.5" x2="986.8" y2="2275.5" stroke="#787878" stroke-width="3"/>
<line x1="1116.3" y1="2263.5" x2="1116.3" y2="2271.5" stroke="#787878" stroke-width="2.5"/>
<line x1="1245.8" y1="2263.5" x2="1245.8" y2="2275.5" stroke="#787878" stroke-width="3"/>
<line x1="1375.4" y1="2263.5" x2="1375.4" y2="2271.5" stroke="#787878" stroke-width="2.5"/>
<line x1="1504.9" y1="2263.5" x2="1504.9" y2="2275.5" stroke="#787878" stroke-width="3"/>
<line x1="1634.5" y1="2263.5" x2="1634.5" y2="2271.5" stroke="#787878" stroke-width="2.5"/>
<line x1="1764" y1="2263.5" x2="1764" y2="2275.5" stroke="#787878" stroke-width="3"/>
<line x1="1893.5" y1="2263.5" x2="1893.5" y2="2271.5" stroke="#787878" stroke-width="2.5"/>
<line x1="2023.1" y1="2263.5" x2="2023.1" y2="2275.5" stroke="#787878" stroke-width="3"/>
<line x1="2152.6" y1="2263.5" x2="2152.6" y2="2271.5" stroke="#787878" stroke-width="2.5"/>
<line x1="2282.2" y1="2263.5" x2="2282.2" y2="2275.5" stroke="#787878" stroke-width="3"/>
<text transform="translate(483.6 2308.3) scale(1.4 1)" font-size="34" font-weight="bold" font-style="normal" fill="#000" text-anchor="middle" >2840</text>
<text transform="translate(742.7 2308.3) scale(1.4 1)" font-size="34" font-weight="bold" font-style="normal" fill="#000" text-anchor="middle" >2860</text>
<text transform="translate(1001.8 2308.3) scale(1.4 1)" font-size="34" font-weight="bold" font-style="normal" fill="#000" text-anchor="middle" >2880</text>
<text transform="translate(1260.8 2308.3) scale(1.4 1)" font-size="34" font-weight="bold" font-style="normal" fill="#000" text-anchor="middle" >2900</text>
<text transform="translate(1519.9 2308.3) scale(1.4 1)" font-size="34" font-weight="bold" font-style="normal" fill="#000" text-anchor="middle" >2920</text>
<text transform="translate(1779 2308.3) scale(1.4 1)" font-size="34" font-weight="bold" font-style="normal" fill="#000" text-anchor="middle" >2940</text>
<text transform="translate(2038.1 2308.3) scale(1.4 1)" font-size="34" font-weight="bold" font-style="normal" fill="#000" text-anchor="middle" >2960</text>
<text transform="translate(2297.2 2308.3) scale(1.4 1)" font-size="34" font-weight="bold" font-style="normal" fill="#000" text-anchor="middle" >2980</text>
<text transform="translate(1386 2345.5) scale(1.4 1)" font-size="32" font-weight="bold" font-style="normal" fill="#000" text-anchor="middle" >m/z</text>
<path d="M323 2248 L323 2248.4 L325.1 2244.9 L327.2 2243.9 L329.3 2249.3 L331.4 2246.6 L333.5 2247.9 L335.6 2249.3 L337.7 2245.6 L339.8 2246.5 L341.9 2247.2 L344 2248.1 L346.1 2248.2 L348.2 2246.5 L350.3 2247.2 L352.4 2247.1 L354.5 2248.8 L356.6 2247 L358.7 2248.9 L360.8 2246.9 L362.9 2248.4 L365 2245 L367.1 2249.1 L369.2 2247.1 L371.3 2247.1 L373.4 2249.4 L375.5 2249.1 L377.6 2247.2 L379.7 2248.1 L381.8 2248.5 L383.9 2247.1 L386 2249.3 L388.1 2248.6 L390.2 2244.3 L392.3 2245.4 L394.4 2247 L396.5 2246.9 L398.6 2246.7 L400.7 2247.4 L402.8 2243.1 L404.9 2243.8 L407 2247.4 L409.1 2249 L411.2 2247.9 L413.3 2247.4 L415.4 2245.7 L417.5 2248.2 L419.6 2246.6 L421.7 2248.7 L423.8 2249 L425.9 2246.6 L428 2248.9 L430.1 2245.8 L432.2 2246.5 L434.3 2246.6 L436.4 2247 L438.5 2249.4 L440.6 2247.1 L442.7 2245.3 L444.8 2249.3 L446.9 2247.5 L449 2247.6 L451.1 2248.1 L453.2 2248.8 L455.3 2247.3 L457.4 2248.9 L459.5 2249.1 L461.6 2246.6 L463.7 2249.3 L465.8 2246.8 L467.9 2246 L470 2242.8 L472.1 2249.3 L474.2 2248.1 L476.3 2247.4 L478.4 2247.5 L480.5 2245 L482.6 2247 L484.7 2249.5 L486.8 2247 L488.9 2246.6 L491 2249.5 L493.1 2244.6 L495.2 2246.3 L497.3 2249 L499.4 2247.9 L501.5 2247.8 L503.6 2246.7 L505.7 2249.2 L507.8 2246.8 L509.9 2249 L512 2246.9 L514.1 2248.7 L516.2 2249.3 L518.3 2248.4 L520.4 2242.7 L522.5 2247.8 L524.6 2246.9 L526.7 2249 L528.8 2247.4 L530.9 2247.9 L533 2244.1 L535.1 2249.4 L537.2 2247.9 L539.3 2248 L541.4 2248.7 L543.5 2247.9 L545.6 2245.5 L547.7 2246 L549.8 2249.5 L551.9 2249.4 L554 2248.4 L556.1 2248 L558.2 2244.4 L560.3 2246.8 L562.4 2249.1 L564.5 2247.6 L566.6 2248.9 L568.7 2248.8 L570.8 2244.7 L572.9 2243.6 L575 2248.6 L577.1 2247.3 L579.2 2248 L581.3 2248.8 L583.4 2248.6 L585.5 2247.2 L587.6 2248.4 L589.7 2248.2 L591.8 2246.5 L593.9 2248.1 L596 2247.3 L598.1 2244.2 L600.2 2249 L602.3 2248.4 L604.4 2248.9 L606.5 2247.5 L608.6 2248.4 L610.7 2245 L612.8 2247.6 L614.9 2249 L617 2249.1 L619.1 2248.6 L621.2 2249.4 L623.3 2243.2 L625.4 2243.9 L627.5 2249 L629.6 2249.3 L631.7 2247.9 L633.8 2248.6 L635.9 2244.8 L638 2247.2 L640.1 2248.2 L642.2 2248.5 L644.3 2247.8 L646.4 2248.4 L648.5 2244.3 L650.6 2242.7 L652.7 2247 L654.8 2247.8 L656.9 2248.5 L659 2247.2 L661.1 2248.6 L663.2 2243.1 L665.3 2247.9 L667.4 2247.2 L669.5 2246.7 L671.6 2246.9 L673.7 2247.5 L675.8 2245.4 L677.9 2246.6 L680 2247.9 L682.1 2247.6 L684.2 2248.3 L686.3 2248.3 L688.4 2247.3 L690.5 2246.5 L692.6 2247.7 L694.7 2247.3 L696.8 2247.7 L698.9 2246.8 L701 2243.3 L703.1 2247.2 L705.2 2246.8 L707.3 2248.1 L709.4 2247.5 L711.5 2248.2 L713.6 2244.1 L715.7 2246.3 L717.8 2248.4 L719.9 2247.6 L722 2246.9 L724.1 2248.3 L726.2 2246.1 L728.3 2243.5 L730.4 2247.6 L732.5 2249.2 L734.6 2246.5 L736.7 2246.8 L738.8 2248.2 L740.9 2243.5 L743 2248.4 L745.1 2249.2 L747.2 2247.6 L749.3 2247.8 L751.4 2247.2 L753.5 2247.3 L755.6 2247.6 L757.7 2249.4 L759.8 2249.2 L761.9 2248.3 L764 2247.3 L766.1 2243.1 L768.2 2247.7 L770.3 2247.5 L772.4 2249.5 L774.5 2248 L776.6 2247.4 L778.7 2244 L780.8 2244.3 L782.9 2247.4 L785 2248.8 L787.1 2249 L789.2 2246.5 L791.3 2244.2 L793.4 2244.1 L795.5 2247.2 L797.6 2247.3 L799.7 2247 L801.8 2249.5 L803.9 2246.2 L806 2245.5 L808.1 2248.3 L810.2 2248.7 L812.3 2246.9 L814.4 2248.8 L816.5 2247.4 L818.6 2244.4 L820.7 2247.4 L822.8 2248.1 L824.9 2247.9 L827 2247.6 L829.1 2248.7 L831.2 2243.2 L833.3 2247.3 L835.4 2247.9 L837.5 2249.2 L839.6 2249.2 L841.7 2248.1 L843.8 2247.8 L845.9 2247.8 L848 2248.2 L850.1 2248.6 L852.2 2248.4 L854.3 2247.9 L856.4 2243 L858.5 2246.5 L860.6 2247.1 L862.7 2247.4 L864.8 2249 L866.9 2246.7 L869 2244.2 L871.1 2244.6 L873.2 2248.8 L875.3 2249.2 L877.4 2246.9 L879.5 2247.9 L881.6 2244.8 L883.7 2244.6 L885.8 2248.3 L887.9 2248.9 L890 2246.7 L892.1 2247.2 L894.2 2249 L896.3 2244.3 L898.4 2246.6 L900.5 2248.7 L902.6 2249.4 L904.7 2249.5 L906.8 2248.6 L908.9 2247.8 L911 2247.2 L913.1 2248.4 L915.2 2249.4 L917.3 2248.6 L919.4 2246.9 L921.5 2247.1 L923.6 2246.9 L925.7 2248.3 L927.8 2247.7 L929.9 2247 L932 2248.4 L934.1 2245.7 L936.2 2244.2 L938.3 2246.7 L940.4 2248.2 L942.5 2248.7 L944.6 2249.1 L946.7 2246.3 L948.8 2246 L950.9 2248 L953 2249.3 L955.1 2247.6 L957.2 2246.7 L959.3 2243.2 L961.4 2244.5 L963.5 2249.2 L965.6 2248.2 L967.7 2248.4 L969.8 2247.3 L971.9 2248.2 L974 2246.7 L976.1 2248.1 L978.2 2246.9 L980.3 2247.2 L982.4 2247.6 L984.5 2248.7 L986.6 2246.9 L988.7 2248.5 L990.8 2246.8 L992.9 2248.5 L995 2246.8 L997.1 2246.9 L999.2 2243.8 L1001.3 2249.1 L1003.4 2247.9 L1005.5 2247.5 L1007.6 2248.9 L1009.7 2246.6 L1011.8 2242.8 L1013.9 2247.8 L1016 2248.5 L1018.1 2247.2 L1020.2 2246.8 L1022.3 2249.4 L1024.4 2245.3 L1026.5 2246.8 L1028.6 2247.6 L1030.7 2247.2 L1032.8 2247.5 L1034.9 2248.3 L1037 2247.5 L1039.1 2244.4 L1041.2 2249 L1043.3 2248.4 L1045.4 2248.9 L1047.5 2247.8 L1049.6 2249.1 L1051.7 2245.2 L1053.8 2248.2 L1055.9 2248.7 L1058 2247.7 L1060.1 2246.8 L1062.2 2246.6 L1064.3 2244.8 L1066.4 2249.2 L1068.5 2247.9 L1070.6 2248.8 L1072.7 2246.5 L1074.8 2247.9 L1076.9 2243.8 L1079 2247.8 L1081.1 2247.9 L1083.2 2246.8 L1085.3 2247 L1087.4 2247 L1089.5 2245.2 L1091.6 2242.4 L1093.7 2247.3 L1095.8 2247.3 L1097.9 2247 L1100 2247.4 L1102.1 2246 L1104.2 2248.1 L1106.3 2247.6 L1108.4 2249.3 L1110.5 2248.6 L1112.6 2248.5 L1114.7 2247.9 L1116.8 2242.1 L1118.9 2248.5 L1121 2247.4 L1123.1 2248.5 L1125.2 2248.7 L1127.3 2247 L1129.4 2244.8 L1131.5 2247.2 L1133.6 2246.7 L1135.7 2247.7 L1137.8 2249.4 L1139.9 2247.6 L1142 2245.7 L1144.1 2247.3 L1146.2 2248.7 L1148.3 2248.7 L1150.4 2247 L1152.5 2247.2 L1154.6 2245.6 L1156.7 2244.2 L1158.8 2249.4 L1160.9 2246.5 L1163 2246.7 L1165.1 2248.8 L1167.2 2244 L1169.3 2246.3 L1171.4 2248.1 L1173.5 2247.6 L1175.6 2246.8 L1177.7 2246.7 L1179.8 2243.4 L1181.9 2241.9 L1184 2247.2 L1186.1 2246.7 L1188.2 2247.7 L1190.3 2246.7 L1192.4 2247.3 L1194.5 2244.8 L1196.6 2246.7 L1198.7 2246.6 L1200.8 2249.4 L1202.9 2247 L1205 2248 L1207.1 2245.5 L1209.2 2246.8 L1211.3 2247.4 L1213.4 2246.8 L1215.5 2248.1 L1217.6 2249.3 L1219.7 2245.7 L1221.8 2247.1 L1223.9 2246.6 L1226 2248.1 L1228.1 2248 L1230.2 2248.2 L1232.3 2245.9 L1234.4 2245.3 L1236.5 2247.4 L1238.6 2247.8 L1240.7 2249 L1242.8 2247.2 L1244.9 2246 L1247 2247.5 L1249.1 2249 L1251.2 2247.4 L1253.3 2246.9 L1255.4 2246.7 L1257.5 2244.8 L1259.6 2245.5 L1261.7 2247.2 L1263.8 2246.7 L1265.9 2248.6 L1268 2246.6 L1270.1 2247.1 L1272.2 2245.5 L1274.3 2246.8 L1276.4 2247.8 L1278.5 2247.4 L1280.6 2248.8 L1282.7 2248.2 L1284.8 2243.9 L1286.9 2248.8 L1289 2248.2 L1291.1 2247.8 L1293.2 2249 L1295.3 2248.5 L1297.4 2243.9 L1299.5 2248.6 L1301.6 2247.3 L1303.7 2248.9 L1305.8 2247.6 L1307.9 2246.9 L1310 2245.7 L1312.1 2246.5 L1314.2 2247.4 L1316.3 2246.7 L1318.4 2248.8 L1320.5 2248.2 L1322.6 2245.5 L1324.7 2246.1 L1326.8 2249.1 L1328.9 2249.3 L1331 2248.3 L1333.1 2247.2 L1335.2 2244.9 L1337.3 2244.2 L1339.4 2248.3 L1341.5 2249 L1343.6 2248.7 L1345.7 2246.8 L1347.8 2248.1 L1349.9 2246.9 L1352 2247.8 L1354.1 2249.3 L1356.2 2248.9 L1358.3 2246.9 L1360.4 2247.5 L1362.5 2243.2 L1364.6 2247.8 L1366.7 2247.8 L1368.8 2248.8 L1370.9 2249.3 L1373 2248.1 L1375.1 2243.4 L1377.2 2246.8 L1379.3 2248.9 L1381.4 2247.8 L1383.5 2246.7 L1385.6 2249.4 L1387.7 2247.1 L1389.8 2246.2 L1391.9 2247.7 L1394 2247.1 L1396.1 2247.3 L1398.2 2247.1 L1400.3 2244.3 L1402.4 2243.2 L1404.5 2247.6 L1406.6 2247.2 L1408.7 2249.4 L1410.8 2249 L1412.9 2244 L1415 2244.3 L1417.1 2249 L1419.2 2248 L1421.3 2246.6 L1423.4 2247 L1425.5 2246.8 L1427.6 2245.3 L1429.7 2247.1 L1431.8 2248.9 L1433.9 2247.5 L1436 2248.5 L1438.1 2249.1 L1440.2 2245.4 L1442.3 2247.6 L1444.4 2246.5 L1446.5 2248 L1448.6 2248.3 L1450.7 2247.1 L1452.8 2244.9 L1454.9 2246.6 L1457 2247.4 L1459.1 2247.6 L1461.2 2247.9 L1463.3 2248.6 L1465.4 2246.9 L1467.5 2245 L1469.6 2248.6 L1471.7 2248.5 L1473.8 2248.1 L1475.9 2248.9 L1478 2245.8 L1480.1 2244.3 L1482.2 2247.4 L1484.3 2246.7 L1486.4 2246.8 L1488.5 2247.6 L1490.6 2245.5 L1492.7 2243.6 L1494.8 2249.3 L1496.9 2247.3 L1499 2248.6 L1501.1 2246.7 L1503.2 2248.8 L1505.3 2245.7 L1507.4 2249.2 L1509.5 2248.6 L1511.6 2249 L1513.7 2248.7 L1515.8 2248.3 L1517.9 2246.2 L1520 2249.2 L1522.1 2247.2 L1524.2 2249.4 L1526.3 2248.1 L1528.4 2247.7 L1530.5 2246.7 L1532.6 2247 L1534.7 2248.5 L1536.8 2249.2 L1538.9 2249.2 L1541 2248.3 L1543.1 2244.3 L1545.2 2244.4 L1547.3 2248.6 L1549.4 2247.6 L1551.5 2249.2 L1553.6 2247.1 L1555.7 2245.1 L1557.8 2245.7 L1559.9 2247 L1562 2248.4 L1564.1 2248.8 L1566.2 2247.2 L1568.3 2246.9 L1570.4 2244.8 L1572.5 2248.7 L1574.6 2247.8 L1576.7 2247.8 L1578.8 2248.1 L1580.9 2249.2 L1583 2245.1 L1585.1 2248.3 L1587.2 2249.4 L1589.3 2247.1 L1591.4 2246.6 L1593.5 2246.8 L1595.6 2245.1 L1597.7 2247.1 L1599.8 2247.1 L1601.9 2248.3 L1604 2248.4 L1606.1 2248.6 L1608.2 2242.8 L1610.3 2248 L1612.4 2249 L1614.5 2249.4 L1616.6 2247.5 L1618.7 2249.1 L1620.8 2245.7 L1622.9 2246.7 L1625 2249 L1627.1 2247.9 L1629.2 2246.8 L1631.3 2247.1 L1633.4 2245.2 L1635.5 2246.7 L1637.6 2246.8 L1639.7 2248.8 L1641.8 2248.7 L1643.9 2248.9 L1646 2244.4 L1648.1 2244.7 L1650.2 2248.4 L1652.3 2249.4 L1654.4 2246.8 L1656.5 2246.8 L1658.6 2246.7 L1660.7 2245.8 L1662.8 2247.9 L1664.9 2248.5 L1667 2248.7 L1669.1 2246.8 L1671.2 2247.7 L1673.3 2244.5 L1675.4 2246.9 L1677.5 2248.3 L1679.6 2247.6 L1681.7 2248.6 L1683.8 2248 L1685.9 2244.5 L1688 2246.7 L1690.1 2248.8 L1692.2 2248.7 L1694.3 2247.4 L1696.4 2246.9 L1698.5 2244.6 L1700.6 2245.3 L1702.7 2247.6 L1704.8 2247.4 L1706.9 2248 L1709 2248.6 L1711.1 2244.1 L1713.2 2245.3 L1715.3 2249 L1717.4 2248.1 L1719.5 2246.7 L1721.6 2247.8 L1723.7 2246.5 L1725.8 2246 L1727.9 2246.8 L1730 2247.9 L1732.1 2249.5 L1734.2 2248.1 L1736.3 2247.7 L1738.4 2242 L1740.5 2247.6 L1742.6 2248.9 L1744.7 2246.5 L1746.8 2248.8 L1748.9 2247.6 L1751 2246.2 L1753.1 2247.9 L1755.2 2247.6 L1757.3 2248.1 L1759.4 2246.7 L1761.5 2247.2 L1763.6 2242.9 L1765.7 2247.9 L1767.8 2246.8 L1769.9 2247.3 L1772 2249.4 L1774.1 2248.6 L1776.2 2243.6 L1778.3 2246.3 L1780.4 2247.8 L1782.5 2248.3 L1784.6 2249.2 L1786.7 2248.4 L1788.8 2243.1 L1790.9 2247.7 L1793 2247.7 L1795.1 2249.1 L1797.2 2249 L1799.3 2249.2 L1801.4 2247 L1803.5 2245.2 L1805.6 2246.9 L1807.7 2248.8 L1809.8 2247.8 L1811.9 2249.4 L1814 2249.5 L1816.1 2245.9 L1818.2 2247.3 L1820.3 2247.9 L1822.4 2247.4 L1824.5 2248.5 L1826.6 2246.9 L1828.7 2246.2 L1830.8 2246.7 L1832.9 2247.6 L1835 2249.2 L1837.1 2249.2 L1839.2 2247.1 L1841.3 2247.9 L1843.4 2249.4 L1845.5 2248.3 L1847.6 2246.9 L1849.7 2247.2 L1851.8 2249.3 L1853.9 2241.8 L1856 2246 L1858.1 2247.3 L1860.2 2248.8 L1862.3 2247.6 L1864.4 2248.8 L1866.5 2246.4 L1868.6 2243.7 L1870.7 2246.8 L1872.8 2246.8 L1874.9 2248.4 L1877 2247.6 L1879.1 2245.5 L1881.2 2246.1 L1883.3 2247.2 L1885.4 2248.2 L1887.5 2247.3 L1889.6 2248.1 L1891.7 2248.7 L1893.8 2246.4 L1895.9 2248.6 L1898 2246.5 L1900.1 2248.8 L1902.2 2247.8 L1904.3 2248 L1906.4 2245.4 L1908.5 2246.7 L1910.6 2248 L1912.7 2246.6 L1914.8 2247.7 L1916.9 2247.5 L1919 2246.3 L1921.1 2247.9 L1923.2 2248.5 L1925.3 2249.3 L1927.4 2247.6 L1929.5 2248.1 L1931.6 2245.5 L1933.7 2244.7 L1935.8 2247.4 L1937.9 2247 L1940 2249.3 L1942.1 2246.7 L1944.2 2245.9 L1946.3 2244.6 L1948.4 2249.3 L1950.5 2247.4 L1952.6 2248.2 L1954.7 2249 L1956.8 2246 L1958.9 2245.2 L1961 2247.1 L1963.1 2247.9 L1965.2 2246.7 L1967.3 2246.8 L1969.4 2247.5 L1971.5 2247.8 L1973.6 2247.3 L1975.7 2247.3 L1977.8 2248.9 L1979.9 2248.7 L1982 2247.3 L1984.1 2244.1 L1986.2 2247.7 L1988.3 2248.4 L1990.4 2247.2 L1992.5 2247.3 L1994.6 2249.1 L1996.7 2246.4 L1998.8 2247 L2000.9 2246.9 L2003 2246.7 L2005.1 2248.7 L2007.2 2248.2 L2009.3 2245.6 L2011.4 2243.7 L2013.5 2249.1 L2015.6 2246.6 L2017.7 2248.3 L2019.8 2246.9 L2021.9 2244.4 L2024 2243.7 L2026.1 2249.3 L2028.2 2246.8 L2030.3 2246.7 L2032.4 2248.6 L2034.5 2245.3 L2036.6 2245.6 L2038.7 2249.2 L2040.8 2248.7 L2042.9 2246.7 L2045 2248.4 L2047.1 2249 L2049.2 2247.3 L2051.3 2247.3 L2053.4 2247.4 L2055.5 2246.5 L2057.6 2248.8 L2059.7 2248 L2061.8 2243.3 L2063.9 2247 L2066 2247.1 L2068.1 2247.3 L2070.2 2249.3 L2072.3 2247.1 L2074.4 2246.2 L2076.5 2246.7 L2078.6 2247.8 L2080.7 2248.4 L2082.8 2248.5 L2084.9 2247 L2087 2246.4 L2089.1 2244.1 L2091.2 2248.2 L2093.3 2249.2 L2095.4 2246.9 L2097.5 2247.3 L2099.6 2245.1 L2101.7 2243.6 L2103.8 2248.5 L2105.9 2247.8 L2108 2248.9 L2110.1 2249 L2112.2 2247.4 L2114.3 2245.8 L2116.4 2247.6 L2118.5 2249.2 L2120.6 2247.3 L2122.7 2248.4 L2124.8 2248.4 L2126.9 2242 L2129 2248.8 L2131.1 2247.5 L2133.2 2246.8 L2135.3 2248.4 L2137.4 2249 L2139.5 2243.3 L2141.6 2249.4 L2143.7 2247.7 L2145.8 2248.4 L2147.9 2248.7 L2150 2247.3 L2152.1 2244.9 L2154.2 2246.8 L2156.3 2246.7 L2158.4 2248.7 L2160.5 2247.7 L2162.6 2249.1 L2164.7 2246.2 L2166.8 2247.6 L2168.9 2248.9 L2171 2249.2 L2173.1 2248 L2175.2 2246.8 L2177.3 2244.5 L2179.4 2247.1 L2181.5 2247.4 L2183.6 2246.8 L2185.7 2248 L2187.8 2249.3 L2189.9 2249.3 L2192 2243.9 L2194.1 2248.8 L2196.2 2246.8 L2198.3 2248.1 L2200.4 2246.8 L2202.5 2249.5 L2204.6 2244.6 L2206.7 2247.3 L2208.8 2248.2 L2210.9 2249.4 L2213 2247.8 L2215.1 2247.1 L2217.2 2246.2 L2219.3 2247.6 L2221.4 2248.4 L2223.5 2249.3 L2225.6 2247.5 L2227.7 2248.9 L2229.8 2243.8 L2231.9 2246.7 L2234 2249.3 L2236.1 2247.9 L2238.2 2247.8 L2240.3 2249.3 L2242.4 2244.7 L2244.5 2246.6 L2246.6 2247.3 L2248.7 2247.9 L2250.8 2248.8 L2252.9 2248.3 L2255 2245.6 L2257.1 2244.9 L2259.2 2246.8 L2261.3 2249.5 L2263.4 2246.9 L2265.5 2247 L2267.6 2246.8 L2269.7 2245.6 L2271.8 2249.1 L2273.9 2247 L2276 2248.6 L2278.1 2246.8 L2280.2 2248.2 L2282.3 2245.6 L2284.4 2246.7 L2286.5 2248.7 L2288.6 2246.9 L2290.7 2248.8 L2292.8 2247.5 L2294.9 2245.1 L2297 2248 L2299.1 2249.1 L2301.2 2249.3 L2303.3 2247.3 L2305.4 2247.5 L2307.5 2242.4 L2309.6 2245.1 L2311.7 2249.4 L2313.8 2246.9 L2315.9 2248.5 L2318 2248.8 L2320.1 2242.6 L2322.2 2242.7 L2324.3 2249.1 L2326.4 2248.5 L2328.5 2247.8 L2330.6 2249 L2332.7 2243.8 L2334.8 2244.1 L2336.9 2248.6 L2339 2248.3 L2341.1 2248.9 L2343.2 2247 L2345.3 2248 L2347.4 2247.9 L2349.5 2248.8 L2351.6 2249 L2353.7 2246.6 L2355.8 2248.1 L2357.9 2247.9 L2360 2245.6 L2362.1 2249.4 L2364.2 2249.1 L2366.3 2247.2" fill="none" stroke="#000" stroke-width="6.2" stroke-linejoin="round"/>
<path d="M364.6 1693 L369.4 1693 L370.4 2112.2 L372.2 2252 L361.8 2252 L363.6 2112.2Z M377.6 1344 L382.4 1344 L383.4 2025 L385.2 2252 L374.8 2252 L376.6 2025Z M390.6 1471.5 L395.4 1471.5 L396.4 2056.9 L398.2 2252 L387.8 2252 L389.6 2056.9Z M403.6 1760 L408.4 1760 L409.4 2129 L411.2 2252 L400.8 2252 L402.6 2129Z M417.1 2042 L421.9 2042 L422.9 2199.5 L424.8 2252 L414.2 2252 L416.1 2199.5Z M430.2 2163 L434.8 2163 L435.7 2229.8 L437.2 2252 L427.8 2252 L429.3 2229.8Z M443.2 2219 L447.8 2219 L448.2 2243.8 L449 2252 L442 2252 L442.8 2243.8Z M455.2 2235 L459.8 2235 L460.2 2247.8 L461 2252 L454 2252 L454.8 2247.8Z M495.8 1873 L500.6 1873 L501.6 2157.2 L503.4 2252 L492.9 2252 L494.8 2157.2Z M508.2 1687 L513 1687 L514 2110.8 L515.9 2252 L505.4 2252 L507.2 2110.8Z M521.1 1769 L525.9 1769 L526.9 2131.2 L528.8 2252 L518.2 2252 L520.1 2131.2Z M533.6 1973 L538.4 1973 L539.4 2182.2 L541.2 2252 L530.8 2252 L532.6 2182.2Z M547.7 2072 L552.3 2072 L553.2 2207 L554.8 2252 L545.2 2252 L546.8 2207Z M560.7 2126 L565.3 2126 L566.2 2220.5 L567.8 2252 L558.2 2252 L559.8 2220.5Z M572.5 2172.5 L577.1 2172.5 L578 2232.1 L579.5 2252 L570 2252 L571.6 2232.1Z M585.3 2200.5 L589.9 2200.5 L590.3 2239.1 L591.1 2252 L584.1 2252 L584.9 2239.1Z M598.1 2229 L602.7 2229 L603.1 2246.2 L603.9 2252 L596.9 2252 L597.7 2246.2Z M610.6 2238.6 L615.2 2238.6 L615.6 2248.7 L616.4 2252 L609.4 2252 L610.2 2248.7Z M676.7 2210.6 L681.3 2210.6 L681.7 2241.7 L682.5 2252 L675.5 2252 L676.3 2241.7Z M689.4 2209.5 L694 2209.5 L694.4 2241.4 L695.2 2252 L688.2 2252 L689 2241.4Z M701.7 2209.5 L706.3 2209.5 L706.7 2241.4 L707.5 2252 L700.5 2252 L701.3 2241.4Z M715.5 2223 L720.1 2223 L720.5 2244.8 L721.3 2252 L714.3 2252 L715.1 2244.8Z M728.3 2233 L732.9 2233 L733.3 2247.2 L734.1 2252 L727.1 2252 L727.9 2247.2Z M740.7 2235 L745.3 2235 L745.7 2247.8 L746.5 2252 L739.5 2252 L740.3 2247.8Z M753.2 2240.5 L757.8 2240.5 L758.2 2249.1 L759 2252 L752 2252 L752.8 2249.1Z M766 2240.5 L770.6 2240.5 L771 2249.1 L771.8 2252 L764.8 2252 L765.6 2249.1Z M779.7 2144.5 L784.3 2144.5 L785.2 2225.1 L786.8 2252 L777.2 2252 L778.8 2225.1Z M793.2 2080 L797.8 2080 L798.7 2209 L800.2 2252 L790.8 2252 L792.3 2209Z M805.7 2100.6 L810.3 2100.6 L811.2 2214.2 L812.8 2252 L803.2 2252 L804.8 2214.2Z M819.2 2135.6 L823.8 2135.6 L824.7 2222.9 L826.2 2252 L816.8 2252 L818.3 2222.9Z M832.5 2188 L837.1 2188 L838 2236 L839.5 2252 L830 2252 L831.6 2236Z M844.9 2223 L849.5 2223 L849.9 2244.8 L850.7 2252 L843.7 2252 L844.5 2244.8Z M857.3 2225 L861.9 2225 L862.3 2245.2 L863.1 2252 L856.1 2252 L856.9 2245.2Z M870.9 2223 L875.5 2223 L875.9 2244.8 L876.7 2252 L869.7 2252 L870.5 2244.8Z M884.5 2229 L889.1 2229 L889.5 2246.2 L890.3 2252 L883.3 2252 L884.1 2246.2Z M897.7 2232 L902.3 2232 L902.7 2247 L903.5 2252 L896.5 2252 L897.3 2247Z M910.7 2236 L915.3 2236 L915.7 2248 L916.5 2252 L909.5 2252 L910.3 2248Z M947.7 2238 L952.3 2238 L952.7 2248.5 L953.5 2252 L946.5 2252 L947.3 2248.5Z M960.7 2234 L965.3 2234 L965.7 2247.5 L966.5 2252 L959.5 2252 L960.3 2247.5Z M973.7 2230 L978.3 2230 L978.7 2246.5 L979.5 2252 L972.5 2252 L973.3 2246.5Z M986.7 2229 L991.3 2229 L991.7 2246.2 L992.5 2252 L985.5 2252 L986.3 2246.2Z M999.7 2233 L1004.3 2233 L1004.7 2247.2 L1005.5 2252 L998.5 2252 L999.3 2247.2Z M1012.7 2231 L1017.3 2231 L1017.7 2246.8 L1018.5 2252 L1011.5 2252 L1012.3 2246.8Z M1025.7 2229 L1030.3 2229 L1030.7 2246.2 L1031.5 2252 L1024.5 2252 L1025.3 2246.2Z M1038.7 2234 L1043.3 2234 L1043.7 2247.5 L1044.5 2252 L1037.5 2252 L1038.3 2247.5Z M1051.7 2238 L1056.3 2238 L1056.7 2248.5 L1057.5 2252 L1050.5 2252 L1051.3 2248.5Z M1258.7 2236 L1263.3 2236 L1263.7 2248 L1264.5 2252 L1257.5 2252 L1258.3 2248Z M1271.7 2232 L1276.3 2232 L1276.7 2247 L1277.5 2252 L1270.5 2252 L1271.3 2247Z M1284.7 2233 L1289.3 2233 L1289.7 2247.2 L1290.5 2252 L1283.5 2252 L1284.3 2247.2Z M1297.7 2235 L1302.3 2235 L1302.7 2247.8 L1303.5 2252 L1296.5 2252 L1297.3 2247.8Z M1310.7 2238 L1315.3 2238 L1315.7 2248.5 L1316.5 2252 L1309.5 2252 L1310.3 2248.5Z M1402.7 2236 L1407.3 2236 L1407.7 2248 L1408.5 2252 L1401.5 2252 L1402.3 2248Z M1415.7 2232 L1420.3 2232 L1420.7 2247 L1421.5 2252 L1414.5 2252 L1415.3 2247Z M1428.7 2233 L1433.3 2233 L1433.7 2247.2 L1434.5 2252 L1427.5 2252 L1428.3 2247.2Z M1441.7 2235 L1446.3 2235 L1446.7 2247.8 L1447.5 2252 L1440.5 2252 L1441.3 2247.8Z M1454.7 2238 L1459.3 2238 L1459.7 2248.5 L1460.5 2252 L1453.5 2252 L1454.3 2248.5Z M1559.7 2232.8 L1564.3 2232.8 L1564.7 2247.2 L1565.5 2252 L1558.5 2252 L1559.3 2247.2Z M1573.5 2225 L1578.1 2225 L1578.5 2245.2 L1579.3 2252 L1572.3 2252 L1573.1 2245.2Z M1586.3 2225 L1590.9 2225 L1591.3 2245.2 L1592.1 2252 L1585.1 2252 L1585.9 2245.2Z M1599.5 2232.8 L1604.1 2232.8 L1604.5 2247.2 L1605.3 2252 L1598.3 2252 L1599.1 2247.2Z M1612.3 2240.5 L1616.9 2240.5 L1617.3 2249.1 L1618.1 2252 L1611.1 2252 L1611.9 2249.1Z M1664.6 1788.5 L1669.4 1788.5 L1670.4 2136.1 L1672.2 2252 L1661.8 2252 L1663.6 2136.1Z M1676.4 1469 L1681.2 1469 L1682.2 2056.2 L1684 2252 L1673.5 2252 L1675.4 2056.2Z M1689.2 1563 L1694 1563 L1695 2079.8 L1696.8 2252 L1686.3 2252 L1688.2 2079.8Z M1703.6 1853 L1708.4 1853 L1709.4 2152.2 L1711.2 2252 L1700.8 2252 L1702.6 2152.2Z M1716.4 2040.4 L1721.2 2040.4 L1722.2 2199.1 L1724 2252 L1713.5 2252 L1715.4 2199.1Z M1729.3 2169.8 L1733.9 2169.8 L1734.8 2231.4 L1736.3 2252 L1726.8 2252 L1728.4 2231.4Z M1742.5 2217 L1747.1 2217 L1747.5 2243.2 L1748.3 2252 L1741.3 2252 L1742.1 2243.2Z M1755.4 2232.8 L1760 2232.8 L1760.4 2247.2 L1761.2 2252 L1754.2 2252 L1755 2247.2Z M1768.7 2240 L1773.3 2240 L1773.7 2249 L1774.5 2252 L1767.5 2252 L1768.3 2249Z M1794.9 1961.9 L1799.7 1961.9 L1800.7 2179.5 L1802.5 2252 L1792 2252 L1793.9 2179.5Z M1807.3 1777.6 L1812.1 1777.6 L1813.1 2133.4 L1815 2252 L1804.5 2252 L1806.3 2133.4Z M1819.4 1823.5 L1824.2 1823.5 L1825.2 2144.9 L1827 2252 L1816.5 2252 L1818.4 2144.9Z M1833 1989.9 L1837.8 1989.9 L1838.8 2186.5 L1840.7 2252 L1830.2 2252 L1832 2186.5Z M1846.7 2096.7 L1851.3 2096.7 L1852.2 2213.2 L1853.8 2252 L1844.2 2252 L1845.8 2213.2Z M1859.1 2094.8 L1863.7 2094.8 L1864.6 2212.7 L1866.2 2252 L1856.7 2252 L1858.2 2212.7Z M1872 2180.3 L1876.6 2180.3 L1877.5 2234.1 L1879 2252 L1869.5 2252 L1871.1 2234.1Z M1884.4 2206.3 L1889 2206.3 L1889.4 2240.6 L1890.2 2252 L1883.2 2252 L1884 2240.6Z M1898 2230.8 L1902.6 2230.8 L1903 2246.7 L1903.8 2252 L1896.8 2252 L1897.6 2246.7Z M1909.7 2238.6 L1914.3 2238.6 L1914.7 2248.7 L1915.5 2252 L1908.5 2252 L1909.3 2248.7Z M1976.9 2207.5 L1981.5 2207.5 L1981.9 2240.9 L1982.7 2252 L1975.7 2252 L1976.5 2240.9Z M1990.1 2209.4 L1994.7 2209.4 L1995.1 2241.3 L1995.9 2252 L1988.9 2252 L1989.7 2241.3Z M2002.9 2212 L2007.5 2212 L2007.9 2242 L2008.7 2252 L2001.7 2252 L2002.5 2242Z M2015.7 2222.3 L2020.3 2222.3 L2020.7 2244.6 L2021.5 2252 L2014.5 2252 L2015.3 2244.6Z M2029 2229 L2033.6 2229 L2034 2246.2 L2034.8 2252 L2027.8 2252 L2028.6 2246.2Z M2041.7 2236.7 L2046.3 2236.7 L2046.7 2248.2 L2047.5 2252 L2040.5 2252 L2041.3 2248.2Z M2054.7 2236.7 L2059.3 2236.7 L2059.7 2248.2 L2060.5 2252 L2053.5 2252 L2054.3 2248.2Z M2067.1 2238 L2071.7 2238 L2072.1 2248.5 L2072.9 2252 L2065.9 2252 L2066.7 2248.5Z M2080.5 2160.9 L2085.1 2160.9 L2086 2229.2 L2087.6 2252 L2078.1 2252 L2079.6 2229.2Z M2093.7 2113.5 L2098.3 2113.5 L2099.2 2217.4 L2100.8 2252 L2091.2 2252 L2092.8 2217.4Z M2105.7 2131.7 L2110.3 2131.7 L2111.2 2221.9 L2112.8 2252 L2103.2 2252 L2104.8 2221.9Z M2119 2160.9 L2123.6 2160.9 L2124.5 2229.2 L2126.1 2252 L2116.6 2252 L2118.1 2229.2Z M2133.7 2197.8 L2138.3 2197.8 L2138.7 2238.4 L2139.5 2252 L2132.5 2252 L2133.3 2238.4Z M2145.4 2225 L2150 2225 L2150.4 2245.2 L2151.2 2252 L2144.2 2252 L2145 2245.2Z M2158.3 2230.8 L2162.9 2230.8 L2163.3 2246.7 L2164.1 2252 L2157.1 2252 L2157.9 2246.7Z M2170.7 2230.8 L2175.3 2230.8 L2175.7 2246.7 L2176.5 2252 L2169.5 2252 L2170.3 2246.7Z M2183.5 2230 L2188.1 2230 L2188.5 2246.5 L2189.3 2252 L2182.3 2252 L2183.1 2246.5Z M2196 2234.7 L2200.6 2234.7 L2201 2247.7 L2201.8 2252 L2194.8 2252 L2195.6 2247.7Z M2208.7 2238 L2213.3 2238 L2213.7 2248.5 L2214.5 2252 L2207.5 2252 L2208.3 2248.5Z M2221.7 2240 L2226.3 2240 L2226.7 2249 L2227.5 2252 L2220.5 2252 L2221.3 2249Z M2234.7 2238 L2239.3 2238 L2239.7 2248.5 L2240.5 2252 L2233.5 2252 L2234.3 2248.5Z M2247.7 2236 L2252.3 2236 L2252.7 2248 L2253.5 2252 L2246.5 2252 L2247.3 2248Z M2260.7 2232 L2265.3 2232 L2265.7 2247 L2266.5 2252 L2259.5 2252 L2260.3 2247Z M2273.7 2228 L2278.3 2228 L2278.7 2246 L2279.5 2252 L2272.5 2252 L2273.3 2246Z M2286.7 2230 L2291.3 2230 L2291.7 2246.5 L2292.5 2252 L2285.5 2252 L2286.3 2246.5Z M2299.7 2234 L2304.3 2234 L2304.7 2247.5 L2305.5 2252 L2298.5 2252 L2299.3 2247.5Z M2312.7 2232 L2317.3 2232 L2317.7 2247 L2318.5 2252 L2311.5 2252 L2312.3 2247Z M2325.7 2226 L2330.3 2226 L2330.7 2245.5 L2331.5 2252 L2324.5 2252 L2325.3 2245.5Z M2338.7 2230 L2343.3 2230 L2343.7 2246.5 L2344.5 2252 L2337.5 2252 L2338.3 2246.5Z M2351.7 2236 L2356.3 2236 L2356.7 2248 L2357.5 2252 L2350.5 2252 L2351.3 2248Z" fill="#000"/>
<line x1="365.5" y1="1337" x2="365.5" y2="1640.5" stroke="#555" stroke-width="3"/>
<line x1="495.5" y1="1662" x2="498" y2="1873" stroke="#555" stroke-width="3"/>
<line x1="568" y1="2043.5" x2="563.5" y2="2126" stroke="#333" stroke-width="2.5"/>
<line x1="771.4" y1="2043.5" x2="771.4" y2="2139.5" stroke="#555" stroke-width="3.2"/>
<line x1="1662.5" y1="1444.6" x2="1668" y2="1751.6" stroke="#555" stroke-width="3"/>
<line x1="1793.4" y1="1745.8" x2="1798.5" y2="1929.6" stroke="#555" stroke-width="3"/>
<line x1="1862" y1="2086" x2="1861.4" y2="2096" stroke="#333" stroke-width="2.5"/>
<line x1="2072" y1="2085" x2="2072" y2="2153" stroke="#222" stroke-width="3"/>
<text transform="translate(378.2 1332.5) rotate(-90) scale(0.78 1)" font-size="48" font-weight="normal" fill="#000" stroke="#000" stroke-width="1.8">2832.4</text>
<text transform="translate(507.5 1646.4) rotate(-90) scale(0.78 1)" font-size="48" font-weight="normal" fill="#000" stroke="#000" stroke-width="1.8">2842.4</text>
<text transform="translate(599.5 2039) rotate(-90) scale(0.78 1)" font-size="48" font-weight="normal" fill="#000" stroke="#000" stroke-width="1.8">2847.4</text>
<text transform="translate(710.2 2188) rotate(-90) scale(0.78 1)" font-size="48" font-weight="normal" fill="#000" stroke="#000" stroke-width="1.8">2856.4</text>
<text transform="translate(783.3 2025) rotate(-90) scale(0.78 1)" font-size="48" font-weight="normal" fill="#000" stroke="#000" stroke-width="1.8">2864.4</text>
<text transform="translate(1672.5 1433.7) rotate(-90) scale(0.78 1)" font-size="48" font-weight="normal" fill="#000" stroke="#000" stroke-width="1.8">2932.4</text>
<text transform="translate(1804.5 1726.4) rotate(-90) scale(0.78 1)" font-size="48" font-weight="normal" fill="#000" stroke="#000" stroke-width="1.8">2942.4</text>
<text transform="translate(1893.9 2085) rotate(-90) scale(0.78 1)" font-size="48" font-weight="normal" fill="#000" stroke="#000" stroke-width="1.8">2947.4</text>
<text transform="translate(1991.1 2181.5) rotate(-90) scale(0.78 1)" font-size="48" font-weight="normal" fill="#000" stroke="#000" stroke-width="1.8">2956.4</text>
<text transform="translate(2085 2066.5) rotate(-90) scale(0.78 1)" font-size="48" font-weight="normal" fill="#000" stroke="#000" stroke-width="1.8">2964.4</text>
<text transform="translate(440 1293) scale(1.22 1)" font-size="53" font-weight="bold" font-style="italic" fill="#17a55c" text-anchor="middle" stroke="#17a55c" stroke-width="2.8" stroke-linejoin="round">A</text>
<text transform="translate(487.5 1496.2) scale(1.16 1)" font-size="50" font-weight="bold" font-style="italic" fill="#0b74b8" text-anchor="middle" stroke="#0b74b8" stroke-width="2.8" stroke-linejoin="round">B</text>
<text transform="translate(776 1890.3) scale(1.16 1)" font-size="50" font-weight="bold" font-style="italic" fill="#0b74b8" text-anchor="middle" stroke="#0b74b8" stroke-width="2.8" stroke-linejoin="round">B’</text>
<text transform="translate(1581.9 2187.5) scale(1.16 1)" font-size="50" font-weight="bold" font-style="italic" fill="#e8201c" text-anchor="middle" stroke="#e8201c" stroke-width="1.8" stroke-linejoin="round">C</text>
<text transform="translate(1664.4 1292.5) scale(1.22 1)" font-size="53" font-weight="bold" font-style="italic" fill="#17a55c" text-anchor="middle" stroke="#17a55c" stroke-width="2.8" stroke-linejoin="round">A</text>
<text transform="translate(1804.5 1577.4) scale(1.16 1)" font-size="50" font-weight="bold" font-style="italic" fill="#0b74b8" text-anchor="middle" stroke="#0b74b8" stroke-width="2.8" stroke-linejoin="round">B</text>
<text transform="translate(2076.2 1930.3) scale(1.16 1)" font-size="50" font-weight="bold" font-style="italic" fill="#0b74b8" text-anchor="middle" stroke="#0b74b8" stroke-width="2.8" stroke-linejoin="round">B’</text>
<text transform="translate(28.5 1263) scale(0.98 1)" font-size="53" font-weight="bold" font-style="normal" fill="#111" text-anchor="start" >b)</text>
<text transform="translate(185 1400.5) rotate(-90) scale(0.785 1)" font-size="46" font-weight="normal" fill="#000" stroke="#000" stroke-width="1.1">Intens. [a.u.]</text>
<text transform="translate(198 1262.5) scale(1.32 1)" font-size="33" font-weight="bold" font-style="normal" fill="#000" text-anchor="start" letter-spacing="1.5">x10</text>
<text transform="translate(291.5 1235.5) scale(1.35 1)" font-size="25" font-weight="bold" font-style="normal" fill="#000" text-anchor="middle" >4</text>
</g>
<g id="pc">
<path d="M231 3597 L231 2375.5 L2403 2375.5 L2403 3597 Z" fill="none" stroke="#000" stroke-width="3.2"/>
<line x1="217" y1="3598" x2="231" y2="3598" stroke="#222" stroke-width="2.4"/>
<line x1="222" y1="3560.2" x2="231" y2="3560.2" stroke="#555" stroke-width="2.2"/>
<line x1="222" y1="3522.4" x2="231" y2="3522.4" stroke="#555" stroke-width="2.2"/>
<line x1="222" y1="3484.5" x2="231" y2="3484.5" stroke="#555" stroke-width="2.2"/>
<line x1="222" y1="3446.7" x2="231" y2="3446.7" stroke="#555" stroke-width="2.2"/>
<line x1="217" y1="3408.9" x2="231" y2="3408.9" stroke="#222" stroke-width="2.4"/>
<line x1="222" y1="3371.1" x2="231" y2="3371.1" stroke="#555" stroke-width="2.2"/>
<line x1="222" y1="3333.3" x2="231" y2="3333.3" stroke="#555" stroke-width="2.2"/>
<line x1="222" y1="3295.4" x2="231" y2="3295.4" stroke="#555" stroke-width="2.2"/>
<line x1="222" y1="3257.6" x2="231" y2="3257.6" stroke="#555" stroke-width="2.2"/>
<line x1="217" y1="3219.8" x2="231" y2="3219.8" stroke="#222" stroke-width="2.4"/>
<line x1="222" y1="3182" x2="231" y2="3182" stroke="#555" stroke-width="2.2"/>
<line x1="222" y1="3144.2" x2="231" y2="3144.2" stroke="#555" stroke-width="2.2"/>
<line x1="222" y1="3106.3" x2="231" y2="3106.3" stroke="#555" stroke-width="2.2"/>
<line x1="222" y1="3068.5" x2="231" y2="3068.5" stroke="#555" stroke-width="2.2"/>
<line x1="217" y1="3030.7" x2="231" y2="3030.7" stroke="#222" stroke-width="2.4"/>
<line x1="222" y1="2992.9" x2="231" y2="2992.9" stroke="#555" stroke-width="2.2"/>
<line x1="222" y1="2955.1" x2="231" y2="2955.1" stroke="#555" stroke-width="2.2"/>
<line x1="222" y1="2917.2" x2="231" y2="2917.2" stroke="#555" stroke-width="2.2"/>
<line x1="222" y1="2879.4" x2="231" y2="2879.4" stroke="#555" stroke-width="2.2"/>
<line x1="217" y1="2841.6" x2="231" y2="2841.6" stroke="#222" stroke-width="2.4"/>
<line x1="222" y1="2803.8" x2="231" y2="2803.8" stroke="#555" stroke-width="2.2"/>
<line x1="222" y1="2766" x2="231" y2="2766" stroke="#555" stroke-width="2.2"/>
<line x1="222" y1="2728.1" x2="231" y2="2728.1" stroke="#555" stroke-width="2.2"/>
<line x1="222" y1="2690.3" x2="231" y2="2690.3" stroke="#555" stroke-width="2.2"/>
<line x1="217" y1="2652.5" x2="231" y2="2652.5" stroke="#222" stroke-width="2.4"/>
<line x1="222" y1="2614.7" x2="231" y2="2614.7" stroke="#555" stroke-width="2.2"/>
<line x1="222" y1="2576.9" x2="231" y2="2576.9" stroke="#555" stroke-width="2.2"/>
<line x1="222" y1="2539" x2="231" y2="2539" stroke="#555" stroke-width="2.2"/>
<line x1="222" y1="2501.2" x2="231" y2="2501.2" stroke="#555" stroke-width="2.2"/>
<line x1="217" y1="2463.4" x2="231" y2="2463.4" stroke="#222" stroke-width="2.4"/>
<line x1="222" y1="2425.6" x2="231" y2="2425.6" stroke="#555" stroke-width="2.2"/>
<line x1="222" y1="2387.8" x2="231" y2="2387.8" stroke="#555" stroke-width="2.2"/>
<text transform="translate(189.7 3615) scale(0.98 1)" font-size="39" font-weight="bold" font-style="normal" fill="#000" text-anchor="middle" >0</text>
<text transform="translate(189.7 3425.9) scale(0.98 1)" font-size="39" font-weight="bold" font-style="normal" fill="#000" text-anchor="middle" >1</text>
<text transform="translate(189.7 3236.8) scale(0.98 1)" font-size="39" font-weight="bold" font-style="normal" fill="#000" text-anchor="middle" >2</text>
<text transform="translate(189.7 3047.7) scale(0.98 1)" font-size="39" font-weight="bold" font-style="normal" fill="#000" text-anchor="middle" >3</text>
<text transform="translate(189.7 2858.6) scale(0.98 1)" font-size="39" font-weight="bold" font-style="normal" fill="#000" text-anchor="middle" >4</text>
<text transform="translate(189.7 2669.5) scale(0.98 1)" font-size="39" font-weight="bold" font-style="normal" fill="#000" text-anchor="middle" >5</text>
<text transform="translate(189.7 2480.4) scale(0.98 1)" font-size="39" font-weight="bold" font-style="normal" fill="#000" text-anchor="middle" >6</text>
<line x1="271.5" y1="3597" x2="271.5" y2="3609" stroke="#444" stroke-width="2.4"/>
<line x1="312" y1="3597" x2="312" y2="3613" stroke="#222" stroke-width="2.4"/>
<line x1="352.5" y1="3597" x2="352.5" y2="3609" stroke="#444" stroke-width="2.4"/>
<line x1="393" y1="3597" x2="393" y2="3609" stroke="#444" stroke-width="2.4"/>
<line x1="433.5" y1="3597" x2="433.5" y2="3609" stroke="#444" stroke-width="2.4"/>
<line x1="474" y1="3597" x2="474" y2="3609" stroke="#444" stroke-width="2.4"/>
<line x1="514.5" y1="3597" x2="514.5" y2="3613" stroke="#222" stroke-width="2.4"/>
<line x1="555" y1="3597" x2="555" y2="3609" stroke="#444" stroke-width="2.4"/>
<line x1="595.5" y1="3597" x2="595.5" y2="3609" stroke="#444" stroke-width="2.4"/>
<line x1="636" y1="3597" x2="636" y2="3609" stroke="#444" stroke-width="2.4"/>
<line x1="676.5" y1="3597" x2="676.5" y2="3609" stroke="#444" stroke-width="2.4"/>
<line x1="717" y1="3597" x2="717" y2="3613" stroke="#222" stroke-width="2.4"/>
<line x1="757.5" y1="3597" x2="757.5" y2="3609" stroke="#444" stroke-width="2.4"/>
<line x1="798" y1="3597" x2="798" y2="3609" stroke="#444" stroke-width="2.4"/>
<line x1="838.5" y1="3597" x2="838.5" y2="3609" stroke="#444" stroke-width="2.4"/>
<line x1="879" y1="3597" x2="879" y2="3609" stroke="#444" stroke-width="2.4"/>
<line x1="919.5" y1="3597" x2="919.5" y2="3613" stroke="#222" stroke-width="2.4"/>
<line x1="960" y1="3597" x2="960" y2="3609" stroke="#444" stroke-width="2.4"/>
<line x1="1000.5" y1="3597" x2="1000.5" y2="3609" stroke="#444" stroke-width="2.4"/>
<line x1="1041" y1="3597" x2="1041" y2="3609" stroke="#444" stroke-width="2.4"/>
<line x1="1081.5" y1="3597" x2="1081.5" y2="3609" stroke="#444" stroke-width="2.4"/>
<line x1="1122" y1="3597" x2="1122" y2="3613" stroke="#222" stroke-width="2.4"/>
<line x1="1162.5" y1="3597" x2="1162.5" y2="3609" stroke="#444" stroke-width="2.4"/>
<line x1="1203" y1="3597" x2="1203" y2="3609" stroke="#444" stroke-width="2.4"/>
<line x1="1243.5" y1="3597" x2="1243.5" y2="3609" stroke="#444" stroke-width="2.4"/>
<line x1="1284" y1="3597" x2="1284" y2="3609" stroke="#444" stroke-width="2.4"/>
<line x1="1324.5" y1="3597" x2="1324.5" y2="3613" stroke="#222" stroke-width="2.4"/>
<line x1="1365" y1="3597" x2="1365" y2="3609" stroke="#444" stroke-width="2.4"/>
<line x1="1405.5" y1="3597" x2="1405.5" y2="3609" stroke="#444" stroke-width="2.4"/>
<line x1="1446" y1="3597" x2="1446" y2="3609" stroke="#444" stroke-width="2.4"/>
<line x1="1486.5" y1="3597" x2="1486.5" y2="3609" stroke="#444" stroke-width="2.4"/>
<line x1="1527" y1="3597" x2="1527" y2="3613" stroke="#222" stroke-width="2.4"/>
<line x1="1567.5" y1="3597" x2="1567.5" y2="3609" stroke="#444" stroke-width="2.4"/>
<line x1="1608" y1="3597" x2="1608" y2="3609" stroke="#444" stroke-width="2.4"/>
<line x1="1648.5" y1="3597" x2="1648.5" y2="3609" stroke="#444" stroke-width="2.4"/>
<line x1="1689" y1="3597" x2="1689" y2="3609" stroke="#444" stroke-width="2.4"/>
<line x1="1729.5" y1="3597" x2="1729.5" y2="3613" stroke="#222" stroke-width="2.4"/>
<line x1="1770" y1="3597" x2="1770" y2="3609" stroke="#444" stroke-width="2.4"/>
<line x1="1810.5" y1="3597" x2="1810.5" y2="3609" stroke="#444" stroke-width="2.4"/>
<line x1="1851" y1="3597" x2="1851" y2="3609" stroke="#444" stroke-width="2.4"/>
<line x1="1891.5" y1="3597" x2="1891.5" y2="3609" stroke="#444" stroke-width="2.4"/>
<line x1="1932" y1="3597" x2="1932" y2="3613" stroke="#222" stroke-width="2.4"/>
<line x1="1972.5" y1="3597" x2="1972.5" y2="3609" stroke="#444" stroke-width="2.4"/>
<line x1="2013" y1="3597" x2="2013" y2="3609" stroke="#444" stroke-width="2.4"/>
<line x1="2053.5" y1="3597" x2="2053.5" y2="3609" stroke="#444" stroke-width="2.4"/>
<line x1="2094" y1="3597" x2="2094" y2="3609" stroke="#444" stroke-width="2.4"/>
<line x1="2134.5" y1="3597" x2="2134.5" y2="3613" stroke="#222" stroke-width="2.4"/>
<line x1="2175" y1="3597" x2="2175" y2="3609" stroke="#444" stroke-width="2.4"/>
<line x1="2215.5" y1="3597" x2="2215.5" y2="3609" stroke="#444" stroke-width="2.4"/>
<line x1="2256" y1="3597" x2="2256" y2="3609" stroke="#444" stroke-width="2.4"/>
<line x1="2296.5" y1="3597" x2="2296.5" y2="3609" stroke="#444" stroke-width="2.4"/>
<line x1="2337" y1="3597" x2="2337" y2="3613" stroke="#222" stroke-width="2.4"/>
<line x1="2377.5" y1="3597" x2="2377.5" y2="3609" stroke="#444" stroke-width="2.4"/>
<text transform="translate(319.5 3648.3) scale(0.95 1)" font-size="39" font-weight="bold" font-style="normal" fill="#000" text-anchor="middle" letter-spacing="1.2">1000</text>
<text transform="translate(522 3648.3) scale(0.95 1)" font-size="39" font-weight="bold" font-style="normal" fill="#000" text-anchor="middle" letter-spacing="1.2">1500</text>
<text transform="translate(724.5 3648.3) scale(0.95 1)" font-size="39" font-weight="bold" font-style="normal" fill="#000" text-anchor="middle" letter-spacing="1.2">2000</text>
<text transform="translate(927 3648.3) scale(0.95 1)" font-size="39" font-weight="bold" font-style="normal" fill="#000" text-anchor="middle" letter-spacing="1.2">2500</text>
<text transform="translate(1129.5 3648.3) scale(0.95 1)" font-size="39" font-weight="bold" font-style="normal" fill="#000" text-anchor="middle" letter-spacing="1.2">3000</text>
<text transform="translate(1332 3648.3) scale(0.95 1)" font-size="39" font-weight="bold" font-style="normal" fill="#000" text-anchor="middle" letter-spacing="1.2">3500</text>
<text transform="translate(1534.5 3648.3) scale(0.95 1)" font-size="39" font-weight="bold" font-style="normal" fill="#000" text-anchor="middle" letter-spacing="1.2">4000</text>
<text transform="translate(1737 3648.3) scale(0.95 1)" font-size="39" font-weight="bold" font-style="normal" fill="#000" text-anchor="middle" letter-spacing="1.2">4500</text>
<text transform="translate(1939.5 3648.3) scale(0.95 1)" font-size="39" font-weight="bold" font-style="normal" fill="#000" text-anchor="middle" letter-spacing="1.2">5000</text>
<text transform="translate(2142 3648.3) scale(0.95 1)" font-size="39" font-weight="bold" font-style="normal" fill="#000" text-anchor="middle" letter-spacing="1.2">5500</text>
<text transform="translate(2344.5 3648.3) scale(0.95 1)" font-size="39" font-weight="bold" font-style="normal" fill="#000" text-anchor="middle" letter-spacing="1.2">6000</text>
<text transform="translate(1230 3718) scale(1.0 1)" font-size="38" font-weight="bold" font-style="normal" fill="#000" text-anchor="middle" >m/z</text>
<text transform="translate(60.5 2614.5) rotate(-90) scale(1.0 1)" font-size="39" font-weight="bold" fill="#000" letter-spacing="1.5">Intens. [a.u.]</text>
<text transform="translate(93 2410.5) scale(1.0 1)" font-size="36" font-weight="bold" font-style="normal" fill="#000" text-anchor="start" letter-spacing="1">x10</text>
<text transform="translate(198.2 2395.5) scale(1.0 1)" font-size="28" font-weight="bold" font-style="normal" fill="#000" text-anchor="middle" >5</text>
<text transform="translate(307.5 2785) scale(1.06 1)" font-size="40" font-weight="bold" font-style="normal" fill="#111" text-anchor="middle" >a)</text>
<text transform="translate(1085 3201) scale(1.06 1)" font-size="40" font-weight="bold" font-style="normal" fill="#111" text-anchor="middle" >b)</text>
<path d="M262.2 2902 L262.2 2869.4 Q262.2 2859.4 272.2 2859.4 L299.9 2859.4 Q307.9 2859.4 307.9 2847.4 L307.9 2820.5 M307.9 2847.4 Q307.9 2859.4 315.9 2859.4 L343.5 2859.4 Q353.5 2859.4 353.5 2869.4 L353.5 2902" fill="none" stroke="#4583bf" stroke-width="5.2" stroke-linejoin="round"/>
<path d="M1038.4 3320 L1038.4 3287.2 Q1038.4 3277.2 1048.4 3277.2 L1075.7 3277.2 Q1083.7 3277.2 1083.7 3265.2 L1083.7 3238.3 M1083.7 3265.2 Q1083.7 3277.2 1091.7 3277.2 L1119 3277.2 Q1129 3277.2 1129 3287.2 L1129 3320" fill="none" stroke="#4583bf" stroke-width="5.2" stroke-linejoin="round"/>
<path d="M232 3596 L232 3589.6 L233.7 3588.6 L235.4 3586.6 L237.1 3591.5 L238.8 3589.5 L240.5 3583.7 L242.2 3585 L243.9 3586.6 L245.6 3586.7 L247.3 3587.6 L249 3586.4 L250.7 3585.8 L252.4 3573.2 L254.1 3588.1 L255.8 3585 L257.5 3584.7 L259.2 3585.6 L260.9 3584.6 L262.6 3591 L264.3 3590.1 L266 3588.5 L267.7 3589.5 L269.4 3588.9 L271.1 3587.4 L272.8 3585.1 L274.5 3584.9 L276.2 3584.5 L277.9 3590.6 L279.6 3584.8 L281.3 3587.7 L283 3590.3 L284.7 3587.7 L286.4 3591.4 L288.1 3584.8 L289.8 3586.2 L291.5 3590.8 L293.2 3586.4 L294.9 3591.6 L296.6 3591.6 L298.3 3589.6 L300 3585.1 L301.7 3585 L303.4 3591.5 L305.1 3591.8 L306.8 3589.2 L308.5 3576.4 L310.2 3589.9 L311.9 3585.9 L313.6 3588.9 L315.3 3587.6 L317 3588.3 L318.7 3585.7 L320.4 3589.2 L322.1 3590.5 L323.8 3585.5 L325.5 3578.7 L327.2 3576.6 L328.9 3587.9 L330.6 3588 L332.3 3587.6 L334 3587.5 L335.7 3592 L337.4 3587.7 L339.1 3590.5 L340.8 3588.3 L342.5 3589.8 L344.2 3589.8 L345.9 3590.3 L347.6 3576.5 L349.3 3587.5 L351 3590.8 L352.7 3590.7 L354.4 3589.5 L356.1 3591.6 L357.8 3590.2 L359.5 3589.5 L361.2 3591.2 L362.9 3588.2 L364.6 3589.5 L366.3 3591.6 L368 3591.2 L369.7 3587.2 L371.4 3590.6 L373.1 3588.4 L374.8 3590.3 L376.5 3590.6 L378.2 3590.7 L379.9 3589.9 L381.6 3589.9 L383.3 3578.2 L385 3587.1 L386.7 3589.8 L388.4 3586.9 L390.1 3588 L391.8 3588.5 L393.5 3590.7 L395.2 3591.1 L396.9 3589 L398.6 3575.1 L400.3 3588.4 L402 3587.3 L403.7 3578 L405.4 3591.5 L407.1 3588.7 L408.8 3590.1 L410.5 3589 L412.2 3591.1 L413.9 3589.8 L415.6 3590.6 L417.3 3589.5 L419 3591.6 L420.7 3587.4 L422.4 3578.1 L424.1 3580.8 L425.8 3591.1 L427.5 3590.3 L429.2 3583.1 L430.9 3591.9 L432.6 3592.3 L434.3 3587.9 L436 3589.9 L437.7 3590.9 L439.4 3589.1 L441.1 3590.7 L442.8 3590.9 L444.5 3589.7 L446.2 3590.6 L447.9 3591.7 L449.6 3589.5 L451.3 3590.7 L453 3589.4 L454.7 3590.7 L456.4 3589 L458.1 3589.1 L459.8 3591.5 L461.5 3589.1 L463.2 3590.5 L464.9 3588.2 L466.6 3590.8 L468.3 3588.7 L470 3590.4 L471.7 3588.6 L473.4 3588.2 L475.1 3589.4 L476.8 3589.9 L478.5 3584.4 L480.2 3583.9 L481.9 3592.3 L483.6 3581.5 L485.3 3592.2 L487 3589.5 L488.7 3588.1 L490.4 3579.1 L492.1 3590.3 L493.8 3592.3 L495.5 3588.3 L497.2 3591.3 L498.9 3588.8 L500.6 3592 L502.3 3589.9 L504 3591 L505.7 3591 L507.4 3590.9 L509.1 3590.5 L510.8 3591 L512.5 3592.2 L514.2 3589.3 L515.9 3590.5 L517.6 3589.9 L519.3 3592.3 L521 3589.4 L522.7 3590.5 L524.4 3589.6 L526.1 3591.7 L527.8 3590.3 L529.5 3591.9 L531.2 3588.6 L532.9 3589.8 L534.6 3589.1 L536.3 3591.8 L538 3592.9 L539.7 3591.3 L541.4 3591.4 L543.1 3589.5 L544.8 3588.6 L546.5 3590.4 L548.2 3589.3 L549.9 3590.6 L551.6 3589.8 L553.3 3591.3 L555 3588.8 L556.7 3592.1 L558.4 3589.9 L560.1 3588.9 L561.8 3592 L563.5 3592 L565.2 3590 L566.9 3589.2 L568.6 3589.4 L570.3 3591.3 L572 3592.8 L573.7 3589.5 L575.4 3591.6 L577.1 3584.5 L578.8 3591.3 L580.5 3592.3 L582.2 3589.1 L583.9 3590.9 L585.6 3592 L587.3 3592.7 L589 3589.4 L590.7 3589.3 L592.4 3590 L594.1 3592 L595.8 3590.5 L597.5 3592.1 L599.2 3589.2 L600.9 3591 L602.6 3591.2 L604.3 3590.3 L606 3590.9 L607.7 3590.6 L609.4 3592.5 L611.1 3590.6 L612.8 3589.5 L614.5 3591.9 L616.2 3590.9 L617.9 3590.7 L619.6 3592 L621.3 3593 L623 3590.3 L624.7 3590.4 L626.4 3592.3 L628.1 3583.6 L629.8 3592.3 L631.5 3591.9 L633.2 3591.7 L634.9 3590.3 L636.6 3590 L638.3 3592.3 L640 3592.9 L641.7 3590.5 L643.4 3592.6 L645.1 3590.5 L646.8 3590.5 L648.5 3592.8 L650.2 3592.6 L651.9 3591.2 L653.6 3592.4 L655.3 3593.3 L657 3590 L658.7 3592 L660.4 3591.2 L662.1 3589.7 L663.8 3592.3 L665.5 3591.6 L667.2 3583.5 L668.9 3591 L670.6 3591.5 L672.3 3592.7 L674 3593.3 L675.7 3591.1 L677.4 3591.4 L679.1 3590.2 L680.8 3590.6 L682.5 3593.3 L684.2 3592.6 L685.9 3591.5 L687.6 3592.3 L689.3 3591 L691 3590.4 L692.7 3590.2 L694.4 3590.9 L696.1 3590.6 L697.8 3590.4 L699.5 3590.8 L701.2 3589.7 L702.9 3592.8 L704.6 3591.8 L706.3 3591.6 L708 3591.3 L709.7 3591.9 L711.4 3592.1 L713.1 3590.4 L714.8 3592.3 L716.5 3591.7 L718.2 3588.8 L719.9 3590.9 L721.6 3592 L723.3 3592.8 L725 3592.2 L726.7 3593.5 L728.4 3593 L730.1 3588.3 L731.8 3592.2 L733.5 3593.4 L735.2 3584.8 L736.9 3592.8 L738.6 3592 L740.3 3591.5 L742 3586.9 L743.7 3592.7 L745.4 3592.1 L747.1 3592.6 L748.8 3592.7 L750.5 3591.6 L752.2 3593.3 L753.9 3590.5 L755.6 3590.4 L757.3 3590.1 L759 3591.5 L760.7 3593 L762.4 3592.1 L764.1 3590.7 L765.8 3593.5 L767.5 3591.7 L769.2 3593.4 L770.9 3591 L772.6 3592.4 L774.3 3591.5 L776 3593.1 L777.7 3591.4 L779.4 3591.9 L781.1 3592.5 L782.8 3593 L784.5 3592.2 L786.2 3593.2 L787.9 3591.8 L789.6 3592.5 L791.3 3593.2 L793 3593.6 L794.7 3591.4 L796.4 3593.4 L798.1 3591.1 L799.8 3591 L801.5 3592.3 L803.2 3591.5 L804.9 3592.6 L806.6 3592.5 L808.3 3593.4 L810 3593.4 L811.7 3591.8 L813.4 3593.6 L815.1 3591.8 L816.8 3593.7 L818.5 3590.9 L820.2 3592.1 L821.9 3591.5 L823.6 3591.4 L825.3 3593.2 L827 3593.5 L828.7 3586.9 L830.4 3593.2 L832.1 3593.5 L833.8 3593.1 L835.5 3592 L837.2 3591.6 L838.9 3592.8 L840.6 3592.5 L842.3 3591.4 L844 3591.5 L845.7 3592.3 L847.4 3591.7 L849.1 3592.8 L850.8 3593.6 L852.5 3591.7 L854.2 3592 L855.9 3593.2 L857.6 3591 L859.3 3592.6 L861 3593.2 L862.7 3591.2 L864.4 3591.4 L866.1 3592.1 L867.8 3592.3 L869.5 3591.2 L871.2 3591.2 L872.9 3591.7 L874.6 3591.1 L876.3 3593 L878 3593.3 L879.7 3591.9 L881.4 3592.4 L883.1 3593.7 L884.8 3593.1 L886.5 3592.9 L888.2 3591.9 L889.9 3593.6 L891.6 3592.8 L893.3 3593.5 L895 3592 L896.7 3591.3 L898.4 3592.9 L900.1 3593.1 L901.8 3592.5 L903.5 3592.9 L905.2 3593.1 L906.9 3591.6 L908.6 3593.1 L910.3 3589.1 L912 3592.5 L913.7 3590.5 L915.4 3591.9 L917.1 3591.4 L918.8 3588.5 L920.5 3593.9 L922.2 3588.9 L923.9 3593.7 L925.6 3593.3 L927.3 3592.8 L929 3593.8 L930.7 3592.3 L932.4 3591.6 L934.1 3593.3 L935.8 3592 L937.5 3592.7 L939.2 3592.5 L940.9 3589.1 L942.6 3591.7 L944.3 3592.8 L946 3591.6 L947.7 3592.4 L949.4 3592.7 L951.1 3593.5 L952.8 3591.5 L954.5 3592.9 L956.2 3592.8 L957.9 3592.8 L959.6 3593.6 L961.3 3592.7 L963 3591.9 L964.7 3591.7 L966.4 3593.9 L968.1 3592.6 L969.8 3593.3 L971.5 3591.8 L973.2 3592.4 L974.9 3592.7 L976.6 3591.7 L978.3 3593.5 L980 3593.6 L981.7 3592 L983.4 3593.3 L985.1 3591.8 L986.8 3593.1 L988.5 3593.7 L990.2 3591.7 L991.9 3593.5 L993.6 3593.8 L995.3 3592.3 L997 3592.5 L998.7 3594 L1000.4 3591.8 L1002.1 3593.4 L1003.8 3593.4 L1005.5 3593.9 L1007.2 3591.8 L1008.9 3591.9 L1010.6 3591.7 L1012.3 3592.5 L1014 3593.9 L1015.7 3593.6 L1017.4 3592.2 L1019.1 3593.9 L1020.8 3592.8 L1022.5 3593.8 L1024.2 3591.8 L1025.9 3593.7 L1027.6 3593.8 L1029.3 3592 L1031 3593.6 L1032.7 3591.8 L1034.4 3593.5 L1036.1 3591.9 L1037.8 3592.5 L1039.5 3594 L1041.2 3592.4 L1042.9 3592.8 L1044.6 3592.9 L1046.3 3592.9 L1048 3593.6 L1049.7 3592 L1051.4 3593.7 L1053.1 3592.2 L1054.8 3593.5 L1056.5 3594 L1058.2 3593.2 L1059.9 3589.3 L1061.6 3592.4 L1063.3 3592.6 L1065 3592.4 L1066.7 3592.9 L1068.4 3593.8 L1070.1 3593.4 L1071.8 3593.3 L1073.5 3593.3 L1075.2 3592 L1076.9 3592.3 L1078.6 3593.5 L1080.3 3593.5 L1082 3593 L1083.7 3593.4 L1085.4 3593.5 L1087.1 3593.2 L1088.8 3593 L1090.5 3592 L1092.2 3593.2 L1093.9 3594 L1095.6 3592.4 L1097.3 3594 L1099 3593.3 L1100.7 3593.4 L1102.4 3593 L1104.1 3593.2 L1105.8 3592.7 L1107.5 3593.5 L1109.2 3593.3 L1110.9 3592.8 L1112.6 3592.9 L1114.3 3593.7 L1116 3592.9 L1117.7 3594 L1119.4 3590.3 L1121.1 3592.3 L1122.8 3592.7 L1124.5 3592.5 L1126.2 3593.3 L1127.9 3593.9 L1129.6 3593.4 L1131.3 3592.4 L1133 3593.8 L1134.7 3593 L1136.4 3594.1 L1138.1 3594.1 L1139.8 3593.8 L1141.5 3593.4 L1143.2 3593.3 L1144.9 3592.9 L1146.6 3594 L1148.3 3592.8 L1150 3593.3 L1151.7 3592.2 L1153.4 3594.1 L1155.1 3593.3 L1156.8 3592.6 L1158.5 3593.4 L1160.2 3592.5 L1161.9 3593.4 L1163.6 3588.7 L1165.3 3593.2 L1167 3594 L1168.7 3593.3 L1170.4 3593.1 L1172.1 3592.3 L1173.8 3593.2 L1175.5 3593.6 L1177.2 3593.9 L1178.9 3593 L1180.6 3592.7 L1182.3 3592.6 L1184 3591 L1185.7 3593.6 L1187.4 3592.5 L1189.1 3592.6 L1190.8 3594 L1192.5 3593.5 L1194.2 3590.9 L1195.9 3593.5 L1197.6 3590 L1199.3 3593.5 L1201 3593.7 L1202.7 3592.9 L1204.4 3594 L1206.1 3593.4 L1207.8 3593.8 L1209.5 3593.8 L1211.2 3593.1 L1212.9 3592.8 L1214.6 3593.2 L1216.3 3593.1 L1218 3594.1 L1219.7 3592.6 L1221.4 3593.2 L1223.1 3592.6 L1224.8 3593.8 L1226.5 3592.4 L1228.2 3592.4 L1229.9 3593.9 L1231.6 3593.6 L1233.3 3593.2 L1235 3593.3 L1236.7 3593.4 L1238.4 3592.7 L1240.1 3593.3 L1241.8 3592.8 L1243.5 3594.1 L1245.2 3593.2 L1246.9 3592.6 L1248.6 3593.3 L1250.3 3592.8 L1252 3590.5 L1253.7 3592.9 L1255.4 3593.4 L1257.1 3593.8 L1258.8 3593.3 L1260.5 3594.1 L1262.2 3593.7 L1263.9 3593.9 L1265.6 3593.9 L1267.3 3593.2 L1269 3594.2 L1270.7 3593.9 L1272.4 3594 L1274.1 3593.3 L1275.8 3592.7 L1277.5 3593.6 L1279.2 3593.8 L1280.9 3592.6 L1282.6 3592.6 L1284.3 3593.5 L1286 3592.6 L1287.7 3593.3 L1289.4 3593.9 L1291.1 3592.6 L1292.8 3593 L1294.5 3594.1 L1296.2 3593 L1297.9 3593.5 L1299.6 3593.7 L1301.3 3594 L1303 3593.8 L1304.7 3593.6 L1306.4 3593 L1308.1 3593.1 L1309.8 3592.9 L1311.5 3593.4 L1313.2 3591.8 L1314.9 3593.2 L1316.6 3593 L1318.3 3592.7 L1320 3593.1 L1321.7 3594.2 L1323.4 3593 L1325.1 3593.9 L1326.8 3592.7 L1328.5 3593.5 L1330.2 3594 L1331.9 3593.2 L1333.6 3594 L1335.3 3593.3 L1337 3592.5 L1338.7 3593 L1340.4 3593.5 L1342.1 3593.3 L1343.8 3591.1 L1345.5 3593.2 L1347.2 3594.2 L1348.9 3593.8 L1350.6 3594.1 L1352.3 3593.7 L1354 3593.6 L1355.7 3593.8 L1357.4 3593.6 L1359.1 3593.7 L1360.8 3593.6 L1362.5 3593.8 L1364.2 3593.4 L1365.9 3592.4 L1367.6 3593.8 L1369.3 3593.4 L1371 3593.1 L1372.7 3593.3 L1374.4 3593.5 L1376.1 3593.8 L1377.8 3593 L1379.5 3594.2 L1381.2 3593.4 L1382.9 3593.6 L1384.6 3592.7 L1386.3 3593.7 L1388 3594.1 L1389.7 3593.6 L1391.4 3592.9 L1393.1 3594.3 L1394.8 3594.3 L1396.5 3593 L1398.2 3594.3 L1399.9 3593.8 L1401.6 3593.9 L1403.3 3594.1 L1405 3594.2 L1406.7 3594.3 L1408.4 3594 L1410.1 3593.2 L1411.8 3593.1 L1413.5 3593.4 L1415.2 3593.3 L1416.9 3591.4 L1418.6 3593.3 L1420.3 3593.7 L1422 3593.5 L1423.7 3593.6 L1425.4 3594.3 L1427.1 3593.2 L1428.8 3593.6 L1430.5 3593.8 L1432.2 3593.2 L1433.9 3593.6 L1435.6 3592 L1437.3 3593.5 L1439 3594 L1440.7 3594.2 L1442.4 3593.6 L1444.1 3593 L1445.8 3593.8 L1447.5 3594.3 L1449.2 3593.2 L1450.9 3593.3 L1452.6 3594 L1454.3 3594.1 L1456 3593.4 L1457.7 3594.2 L1459.4 3593.6 L1461.1 3593.6 L1462.8 3594.1 L1464.5 3593.4 L1466.2 3593 L1467.9 3593 L1469.6 3593.3 L1471.3 3594.2 L1473 3593 L1474.7 3593.5 L1476.4 3593.9 L1478.1 3593 L1479.8 3594.1 L1481.5 3593.1 L1483.2 3593.9 L1484.9 3593 L1486.6 3594.3 L1488.3 3593.9 L1490 3592.9 L1491.7 3594.2 L1493.4 3594 L1495.1 3593 L1496.8 3593 L1498.5 3593.9 L1500.2 3593.6 L1501.9 3593.8 L1503.6 3593.9 L1505.3 3593 L1507 3593.2 L1508.7 3594 L1510.4 3594.1 L1512.1 3593.1 L1513.8 3593.6 L1515.5 3590.6 L1517.2 3594 L1518.9 3593 L1520.6 3593 L1522.3 3593.4 L1524 3593.1 L1525.7 3593.9 L1527.4 3593.5 L1529.1 3594.2 L1530.8 3594.3 L1532.5 3593.9 L1534.2 3593.9 L1535.9 3593.9 L1537.6 3593.8 L1539.3 3594 L1541 3593.3 L1542.7 3593.3 L1544.4 3594.2 L1546.1 3593.2 L1547.8 3593.8 L1549.5 3593.2 L1551.2 3593.9 L1552.9 3594.4 L1554.6 3593.7 L1556.3 3593.8 L1558 3593.4 L1559.7 3593 L1561.4 3593.2 L1563.1 3593.3 L1564.8 3594.3 L1566.5 3593.2 L1568.2 3593.2 L1569.9 3594.3 L1571.6 3594.2 L1573.3 3593.8 L1575 3593.3 L1576.7 3593.5 L1578.4 3593.6 L1580.1 3593.2 L1581.8 3594.3 L1583.5 3594 L1585.2 3594.4 L1586.9 3591.2 L1588.6 3593.1 L1590.3 3593.4 L1592 3593.5 L1593.7 3591.9 L1595.4 3593.7 L1597.1 3594.1 L1598.8 3594.2 L1600.5 3593.8 L1602.2 3593.5 L1603.9 3593.4 L1605.6 3593.2 L1607.3 3594.1 L1609 3593.2 L1610.7 3593.9 L1612.4 3593.5 L1614.1 3593.9 L1615.8 3593.3 L1617.5 3594.3 L1619.2 3593.4 L1620.9 3593.9 L1622.6 3593.8 L1624.3 3594.3 L1626 3593.6 L1627.7 3593.1 L1629.4 3593.8 L1631.1 3593.6 L1632.8 3593.7 L1634.5 3593.7 L1636.2 3594.2 L1637.9 3594 L1639.6 3594.3 L1641.3 3593.8 L1643 3594.1 L1644.7 3594.2 L1646.4 3592.1 L1648.1 3594.2 L1649.8 3593.8 L1651.5 3594 L1653.2 3593.3 L1654.9 3594.4 L1656.6 3591.1 L1658.3 3594 L1660 3593.6 L1661.7 3593.8 L1663.4 3593.7 L1665.1 3594.3 L1666.8 3593.9 L1668.5 3592.7 L1670.2 3594.2 L1671.9 3593.3 L1673.6 3594.1 L1675.3 3593.6 L1677 3593.4 L1678.7 3593.1 L1680.4 3594.1 L1682.1 3593.3 L1683.8 3593.7 L1685.5 3593.9 L1687.2 3594.4 L1688.9 3593.3 L1690.6 3593.5 L1692.3 3593.1 L1694 3594 L1695.7 3594.2 L1697.4 3594.3 L1699.1 3593.9 L1700.8 3593.4 L1702.5 3591.7 L1704.2 3594 L1705.9 3593.6 L1707.6 3593.5 L1709.3 3593.5 L1711 3593.8 L1712.7 3593.4 L1714.4 3594 L1716.1 3594.1 L1717.8 3594.4 L1719.5 3593.8 L1721.2 3593.7 L1722.9 3593.2 L1724.6 3593.7 L1726.3 3593.3 L1728 3593.4 L1729.7 3593.2 L1731.4 3593.9 L1733.1 3593.6 L1734.8 3593.5 L1736.5 3593.4 L1738.2 3594.1 L1739.9 3593.6 L1741.6 3593.7 L1743.3 3593.6 L1745 3594.1 L1746.7 3593.3 L1748.4 3594.1 L1750.1 3593.5 L1751.8 3593.6 L1753.5 3593.5 L1755.2 3594 L1756.9 3593.9 L1758.6 3593.5 L1760.3 3594.3 L1762 3593.2 L1763.7 3593.7 L1765.4 3594.4 L1767.1 3593.7 L1768.8 3594.1 L1770.5 3594.3 L1772.2 3594.1 L1773.9 3593.4 L1775.6 3593.5 L1777.3 3593.8 L1779 3593.4 L1780.7 3593.5 L1782.4 3591.3 L1784.1 3592 L1785.8 3593.3 L1787.5 3594.1 L1789.2 3594 L1790.9 3593.9 L1792.6 3593.2 L1794.3 3594.1 L1796 3594.3 L1797.7 3593.4 L1799.4 3594 L1801.1 3593.4 L1802.8 3593.7 L1804.5 3593.9 L1806.2 3591.8 L1807.9 3594.2 L1809.6 3594.2 L1811.3 3593.5 L1813 3593.2 L1814.7 3593.3 L1816.4 3594.2 L1818.1 3593.9 L1819.8 3594.4 L1821.5 3593.8 L1823.2 3593.4 L1824.9 3593.9 L1826.6 3594 L1828.3 3593.8 L1830 3594.2 L1831.7 3594.1 L1833.4 3594.4 L1835.1 3593.7 L1836.8 3594 L1838.5 3594.3 L1840.2 3594.4 L1841.9 3593.5 L1843.6 3593.4 L1845.3 3593.8 L1847 3593.6 L1848.7 3592.7 L1850.4 3594.2 L1852.1 3594.3 L1853.8 3593.8 L1855.5 3593.4 L1857.2 3593.4 L1858.9 3594.1 L1860.6 3593.5 L1862.3 3593.5 L1864 3593.7 L1865.7 3594.2 L1867.4 3593.6 L1869.1 3590.6 L1870.8 3594.2 L1872.5 3593.5 L1874.2 3593.9 L1875.9 3594.1 L1877.6 3594.3 L1879.3 3593.7 L1881 3593.3 L1882.7 3594.4 L1884.4 3594.4 L1886.1 3593.6 L1887.8 3593.7 L1889.5 3593.5 L1891.2 3594 L1892.9 3594.3 L1894.6 3594.2 L1896.3 3594.1 L1898 3593.8 L1899.7 3594.3 L1901.4 3593.6 L1903.1 3593.7 L1904.8 3594 L1906.5 3593.7 L1908.2 3593.8 L1909.9 3593.6 L1911.6 3593.8 L1913.3 3593.9 L1915 3593.4 L1916.7 3593.5 L1918.4 3593.6 L1920.1 3592 L1921.8 3593.3 L1923.5 3593.6 L1925.2 3594 L1926.9 3593.8 L1928.6 3593.8 L1930.3 3594.1 L1932 3593.8 L1933.7 3593.4 L1935.4 3593.3 L1937.1 3594.2 L1938.8 3594.4 L1940.5 3593.5 L1942.2 3593.4 L1943.9 3594.4 L1945.6 3593.9 L1947.3 3594.1 L1949 3593.8 L1950.7 3593.5 L1952.4 3593.8 L1954.1 3594.4 L1955.8 3593.9 L1957.5 3594 L1959.2 3593.5 L1960.9 3594.5 L1962.6 3594 L1964.3 3594.3 L1966 3594.3 L1967.7 3593.7 L1969.4 3593.7 L1971.1 3593.5 L1972.8 3593.7 L1974.5 3593.7 L1976.2 3593.8 L1977.9 3593.6 L1979.6 3593.6 L1981.3 3594.4 L1983 3593.3 L1984.7 3593.5 L1986.4 3594.4 L1988.1 3594.5 L1989.8 3594.1 L1991.5 3593.4 L1993.2 3594 L1994.9 3593.6 L1996.6 3594.4 L1998.3 3593.5 L2000 3594.1 L2001.7 3593.8 L2003.4 3593.4 L2005.1 3593.9 L2006.8 3594.2 L2008.5 3593.5 L2010.2 3593.4 L2011.9 3594.1 L2013.6 3594.4 L2015.3 3594 L2017 3594.3 L2018.7 3593.5 L2020.4 3593.8 L2022.1 3593.9 L2023.8 3594 L2025.5 3593.5 L2027.2 3593.8 L2028.9 3593.4 L2030.6 3594.3 L2032.3 3593.5 L2034 3594.4 L2035.7 3594.3 L2037.4 3593.3 L2039.1 3593.6 L2040.8 3593.5 L2042.5 3594.5 L2044.2 3591.6 L2045.9 3593.4 L2047.6 3594.1 L2049.3 3594 L2051 3593.5 L2052.7 3593.7 L2054.4 3593.7 L2056.1 3593.9 L2057.8 3594.1 L2059.5 3593.4 L2061.2 3594.4 L2062.9 3593.9 L2064.6 3594.1 L2066.3 3594.1 L2068 3594.2 L2069.7 3594.1 L2071.4 3594.3 L2073.1 3594.3 L2074.8 3593.9 L2076.5 3593.9 L2078.2 3594.1 L2079.9 3593.5 L2081.6 3594 L2083.3 3593.8 L2085 3593.3 L2086.7 3592.6 L2088.4 3593.5 L2090.1 3594.2 L2091.8 3592.3 L2093.5 3594.4 L2095.2 3594.3 L2096.9 3593.5 L2098.6 3594.2 L2100.3 3592.3 L2102 3594.1 L2103.7 3594.2 L2105.4 3594.2 L2107.1 3594.1 L2108.8 3594.4 L2110.5 3594.3 L2112.2 3594 L2113.9 3593.4 L2115.6 3593.6 L2117.3 3594.1 L2119 3594.2 L2120.7 3594.3 L2122.4 3593.6 L2124.1 3594 L2125.8 3593.8 L2127.5 3594.5 L2129.2 3594 L2130.9 3593.4 L2132.6 3592.4 L2134.3 3594 L2136 3594.4 L2137.7 3594.2 L2139.4 3593.9 L2141.1 3593.6 L2142.8 3594.4 L2144.5 3594.4 L2146.2 3593.5 L2147.9 3593.8 L2149.6 3594.2 L2151.3 3596 Z" fill="#000"/>
<line x1="257" y1="3333.5" x2="257" y2="3502" stroke="#555" stroke-width="2.8"/>
<text transform="translate(262.7 3334) rotate(-90) scale(1.0 1)" font-size="32" font-weight="normal" fill="#000" stroke="#000" stroke-width="1.4">863.4</text>
<line x1="286.3" y1="3189.5" x2="286.3" y2="3273" stroke="#444" stroke-width="2.8"/>
<line x1="296.9" y1="3393.8" x2="296.9" y2="3596" stroke="#444" stroke-width="2.2"/>
<line x1="300.4" y1="3545.4" x2="300.4" y2="3596" stroke="#555" stroke-width="2"/>
<text transform="translate(293.9 3189) rotate(-90) scale(1.0 1)" font-size="32" font-weight="normal" fill="#000" stroke="#000" stroke-width="1.4">941.4</text>
<line x1="324.4" y1="3005.6" x2="324.4" y2="3537" stroke="#666" stroke-width="4.5"/>
<line x1="335" y1="3327.7" x2="335" y2="3596" stroke="#444" stroke-width="2.2"/>
<line x1="338.5" y1="3528.9" x2="338.5" y2="3596" stroke="#555" stroke-width="2"/>
<text transform="translate(331.7 3004.5) rotate(-90) scale(1.0 1)" font-size="32" font-weight="normal" fill="#000" stroke="#000" stroke-width="1.4">1031.5</text>
<line x1="366" y1="2711.7" x2="366" y2="2964" stroke="#444" stroke-width="2.8"/>
<line x1="376.6" y1="3288.9" x2="376.6" y2="3596" stroke="#444" stroke-width="2.2"/>
<line x1="380.1" y1="3519.2" x2="380.1" y2="3596" stroke="#555" stroke-width="2"/>
<text transform="translate(378.3 2695.5) rotate(-90) scale(1.0 1)" font-size="32" font-weight="normal" fill="#000" stroke="#000" stroke-width="1.4">1131.5</text>
<line x1="404.5" y1="2531" x2="404.5" y2="2917.5" stroke="#8a8a8a" stroke-width="4.2"/>
<line x1="415.1" y1="3292.7" x2="415.1" y2="3596" stroke="#444" stroke-width="2.2"/>
<line x1="418.6" y1="3520.2" x2="418.6" y2="3596" stroke="#555" stroke-width="2"/>
<text transform="translate(397.7 2519) rotate(-90) scale(1.0 1)" font-size="32" font-weight="normal" fill="#000" stroke="#000" stroke-width="1.4">1231.6</text>
<line x1="457.4" y1="3318" x2="457.4" y2="3596" stroke="#444" stroke-width="2.2"/>
<line x1="460.9" y1="3526.5" x2="460.9" y2="3596" stroke="#555" stroke-width="2"/>
<text transform="translate(453.3 2523) rotate(-90) scale(1.0 1)" font-size="32" font-weight="normal" fill="#000" stroke="#000" stroke-width="1.4">1331.6</text>
<line x1="486.8" y1="2653.4" x2="486.8" y2="3109.8" stroke="#999" stroke-width="4.6"/>
<line x1="497.4" y1="3382" x2="497.4" y2="3596" stroke="#444" stroke-width="2.2"/>
<line x1="500.9" y1="3542.5" x2="500.9" y2="3596" stroke="#555" stroke-width="2"/>
<text transform="translate(497.2 2652) rotate(-90) scale(1.0 1)" font-size="32" font-weight="normal" fill="#000" stroke="#000" stroke-width="1.4">1431.7</text>
<line x1="527.6" y1="2814.7" x2="527.6" y2="3205" stroke="#444" stroke-width="2.8"/>
<line x1="538.2" y1="3440.4" x2="538.2" y2="3596" stroke="#444" stroke-width="2.2"/>
<line x1="541.7" y1="3557.1" x2="541.7" y2="3596" stroke="#555" stroke-width="2"/>
<text transform="translate(534.9 2814.5) rotate(-90) scale(1.0 1)" font-size="32" font-weight="normal" fill="#000" stroke="#000" stroke-width="1.4">1531.7</text>
<line x1="568" y1="3001" x2="568" y2="3304" stroke="#444" stroke-width="2.8"/>
<line x1="578.6" y1="3479.3" x2="578.6" y2="3596" stroke="#444" stroke-width="2.2"/>
<line x1="582.1" y1="3566.8" x2="582.1" y2="3596" stroke="#555" stroke-width="2"/>
<text transform="translate(574.9 3000.5) rotate(-90) scale(1.0 1)" font-size="32" font-weight="normal" fill="#000" stroke="#000" stroke-width="1.4">1631.8</text>
<line x1="618.6" y1="3506.5" x2="618.6" y2="3596" stroke="#444" stroke-width="2.2"/>
<line x1="622.1" y1="3573.6" x2="622.1" y2="3596" stroke="#555" stroke-width="2"/>
<text transform="translate(615.3 3148) rotate(-90) scale(1.0 1)" font-size="32" font-weight="normal" fill="#000" stroke="#000" stroke-width="1.4">1731.8</text>
<line x1="649.7" y1="3220.5" x2="649.7" y2="3392" stroke="#555" stroke-width="2.8"/>
<line x1="660.3" y1="3519.3" x2="660.3" y2="3596" stroke="#444" stroke-width="2.2"/>
<line x1="663.8" y1="3576.8" x2="663.8" y2="3596" stroke="#555" stroke-width="2"/>
<text transform="translate(657.3 3222) rotate(-90) scale(1.0 1)" font-size="32" font-weight="normal" fill="#000" stroke="#000" stroke-width="1.4">1831.9</text>
<line x1="690.5" y1="3238" x2="690.5" y2="3419" stroke="#444" stroke-width="2.8"/>
<line x1="701.1" y1="3528.7" x2="701.1" y2="3596" stroke="#444" stroke-width="2.2"/>
<line x1="704.6" y1="3579.2" x2="704.6" y2="3596" stroke="#555" stroke-width="2"/>
<text transform="translate(695.4 3239) rotate(-90) scale(1.0 1)" font-size="32" font-weight="normal" fill="#000" stroke="#000" stroke-width="1.4">1931.9</text>
<line x1="731.3" y1="3265" x2="731.3" y2="3510" stroke="#444" stroke-width="2.8"/>
<line x1="741.9" y1="3526" x2="741.9" y2="3596" stroke="#444" stroke-width="2.2"/>
<line x1="745.4" y1="3578.5" x2="745.4" y2="3596" stroke="#555" stroke-width="2"/>
<text transform="translate(737.7 3266) rotate(-90) scale(1.0 1)" font-size="32" font-weight="normal" fill="#000" stroke="#000" stroke-width="1.4">2032.0</text>
<line x1="771.3" y1="3271" x2="771.3" y2="3329.7" stroke="#333" stroke-width="2.8"/>
<line x1="781.9" y1="3531.8" x2="781.9" y2="3596" stroke="#444" stroke-width="2.2"/>
<line x1="785.4" y1="3579.9" x2="785.4" y2="3596" stroke="#555" stroke-width="2"/>
<text transform="translate(777.7 3271.5) rotate(-90) scale(1.0 1)" font-size="32" font-weight="normal" fill="#000" stroke="#000" stroke-width="1.4">2132.0</text>
<line x1="811" y1="3300.5" x2="811" y2="3409" stroke="#333" stroke-width="2.8"/>
<line x1="815.2" y1="3448.2" x2="815.2" y2="3596" stroke="#666" stroke-width="2.2"/>
<line x1="821.6" y1="3531.8" x2="821.6" y2="3596" stroke="#444" stroke-width="2.2"/>
<line x1="825.1" y1="3579.9" x2="825.1" y2="3596" stroke="#555" stroke-width="2"/>
<text transform="translate(820.6 3300.5) rotate(-90) scale(1.0 1)" font-size="32" font-weight="normal" fill="#000" stroke="#000" stroke-width="1.4">2232.1</text>
<line x1="851.8" y1="3308.3" x2="851.8" y2="3460" stroke="#333" stroke-width="2.8"/>
<line x1="856" y1="3452.2" x2="856" y2="3596" stroke="#666" stroke-width="2.2"/>
<line x1="862.4" y1="3537.6" x2="862.4" y2="3596" stroke="#444" stroke-width="2.2"/>
<line x1="865.9" y1="3581.4" x2="865.9" y2="3596" stroke="#555" stroke-width="2"/>
<text transform="translate(859.5 3308.5) rotate(-90) scale(1.0 1)" font-size="32" font-weight="normal" fill="#000" stroke="#000" stroke-width="1.4">2332.1</text>
<line x1="891.9" y1="3332.8" x2="891.9" y2="3504.6" stroke="#333" stroke-width="2.8"/>
<line x1="896.1" y1="3464.4" x2="896.1" y2="3596" stroke="#666" stroke-width="2.2"/>
<line x1="902.5" y1="3549" x2="902.5" y2="3596" stroke="#444" stroke-width="2.2"/>
<line x1="906" y1="3584.2" x2="906" y2="3596" stroke="#555" stroke-width="2"/>
<text transform="translate(900.3 3333) rotate(-90) scale(1.0 1)" font-size="32" font-weight="normal" fill="#000" stroke="#000" stroke-width="1.4">2432.2</text>
<line x1="932.7" y1="3358.8" x2="932.7" y2="3440.5" stroke="#333" stroke-width="2.8"/>
<line x1="936.9" y1="3477.4" x2="936.9" y2="3596" stroke="#666" stroke-width="2.2"/>
<line x1="943.3" y1="3551" x2="943.3" y2="3596" stroke="#444" stroke-width="2.2"/>
<line x1="946.8" y1="3584.8" x2="946.8" y2="3596" stroke="#555" stroke-width="2"/>
<text transform="translate(941.9 3358.5) rotate(-90) scale(1.0 1)" font-size="32" font-weight="normal" fill="#000" stroke="#000" stroke-width="1.4">2532.2</text>
<line x1="973.5" y1="3393.8" x2="973.5" y2="3537.6" stroke="#333" stroke-width="2.8"/>
<line x1="977.7" y1="3494.9" x2="977.7" y2="3596" stroke="#666" stroke-width="2.2"/>
<line x1="984.1" y1="3559" x2="984.1" y2="3596" stroke="#444" stroke-width="2.2"/>
<line x1="987.6" y1="3586.8" x2="987.6" y2="3596" stroke="#555" stroke-width="2"/>
<text transform="translate(981.9 3394) rotate(-90) scale(1.0 1)" font-size="32" font-weight="normal" fill="#000" stroke="#000" stroke-width="1.4">2632.3</text>
<line x1="1013.5" y1="3417" x2="1013.5" y2="3491" stroke="#333" stroke-width="2.8"/>
<line x1="1017.7" y1="3506.5" x2="1017.7" y2="3596" stroke="#666" stroke-width="2.2"/>
<line x1="1024.1" y1="3563" x2="1024.1" y2="3596" stroke="#444" stroke-width="2.2"/>
<line x1="1027.6" y1="3587.8" x2="1027.6" y2="3596" stroke="#555" stroke-width="2"/>
<text transform="translate(1020.7 3416) rotate(-90) scale(1.0 1)" font-size="32" font-weight="normal" fill="#000" stroke="#000" stroke-width="1.4">2732.3</text>
<line x1="1054" y1="3442.4" x2="1054" y2="3518" stroke="#333" stroke-width="2.8"/>
<line x1="1058.2" y1="3519.2" x2="1058.2" y2="3596" stroke="#666" stroke-width="2.2"/>
<line x1="1064.6" y1="3568.7" x2="1064.6" y2="3596" stroke="#444" stroke-width="2.2"/>
<line x1="1068.1" y1="3589.2" x2="1068.1" y2="3596" stroke="#555" stroke-width="2"/>
<text transform="translate(1062.7 3443) rotate(-90) scale(1.0 1)" font-size="32" font-weight="normal" fill="#000" stroke="#000" stroke-width="1.4">2832.4</text>
<line x1="1094.7" y1="3467.6" x2="1094.7" y2="3522" stroke="#333" stroke-width="2.8"/>
<line x1="1098.9" y1="3531.8" x2="1098.9" y2="3596" stroke="#666" stroke-width="2.2"/>
<line x1="1105.3" y1="3572.6" x2="1105.3" y2="3596" stroke="#444" stroke-width="2.2"/>
<text transform="translate(1103.1 3467) rotate(-90) scale(1.0 1)" font-size="32" font-weight="normal" fill="#000" stroke="#000" stroke-width="1.4">2932.4</text>
<line x1="1134.8" y1="3487" x2="1134.8" y2="3566.8" stroke="#333" stroke-width="2.8"/>
<line x1="1139" y1="3541.5" x2="1139" y2="3596" stroke="#666" stroke-width="2.2"/>
<line x1="1145.4" y1="3574.5" x2="1145.4" y2="3596" stroke="#444" stroke-width="2.2"/>
<text transform="translate(1144.3 3486.5) rotate(-90) scale(1.0 1)" font-size="32" font-weight="normal" fill="#000" stroke="#000" stroke-width="1.4">3032.5</text>
<line x1="1175.6" y1="3506.5" x2="1175.6" y2="3541.5" stroke="#333" stroke-width="2.8"/>
<line x1="1179.8" y1="3551.2" x2="1179.8" y2="3596" stroke="#666" stroke-width="2.2"/>
<line x1="1186.2" y1="3578.4" x2="1186.2" y2="3596" stroke="#444" stroke-width="2.2"/>
<text transform="translate(1189.7 3503) rotate(-90) scale(1.0 1)" font-size="30.5" font-weight="normal" fill="#000" stroke="#000" stroke-width="1.4">3132.5</text>
<line x1="1216.4" y1="3514.3" x2="1216.4" y2="3572.6" stroke="#333" stroke-width="2.8"/>
<line x1="1220.6" y1="3555.2" x2="1220.6" y2="3596" stroke="#666" stroke-width="2.2"/>
<line x1="1227" y1="3580" x2="1227" y2="3596" stroke="#444" stroke-width="2.2"/>
<text transform="translate(1226 3513.5) rotate(-90) scale(1.0 1)" font-size="32" font-weight="normal" fill="#000" stroke="#000" stroke-width="1.4">3232.6</text>
<line x1="1256.4" y1="3524" x2="1256.4" y2="3553" stroke="#333" stroke-width="2.8"/>
<line x1="1260.6" y1="3560" x2="1260.6" y2="3596" stroke="#666" stroke-width="2.2"/>
<line x1="1267" y1="3582" x2="1267" y2="3596" stroke="#444" stroke-width="2.2"/>
<text transform="translate(1264.7 3524.5) rotate(-90) scale(1.0 1)" font-size="32" font-weight="normal" fill="#000" stroke="#000" stroke-width="1.4">3332.6</text>
<line x1="1297.2" y1="3533.7" x2="1297.2" y2="3561" stroke="#333" stroke-width="2.8"/>
<line x1="1301.4" y1="3564.8" x2="1301.4" y2="3596" stroke="#666" stroke-width="2.2"/>
<line x1="1307.8" y1="3584" x2="1307.8" y2="3596" stroke="#444" stroke-width="2.2"/>
<text transform="translate(1303.7 3534) rotate(-90) scale(1.0 1)" font-size="32" font-weight="normal" fill="#000" stroke="#000" stroke-width="1.4">3432.7</text>
<line x1="1337.4" y1="3538" x2="1337.4" y2="3553" stroke="#333" stroke-width="2.8"/>
<line x1="1341.6" y1="3567" x2="1341.6" y2="3596" stroke="#666" stroke-width="2.2"/>
<line x1="1348" y1="3586" x2="1348" y2="3596" stroke="#444" stroke-width="2.2"/>
<text transform="translate(1351.2 3535) rotate(-90) scale(1.0 1)" font-size="29" font-weight="normal" fill="#000" stroke="#000" stroke-width="1.4">3532.7</text>
<line x1="1378.9" y1="3547.3" x2="1378.9" y2="3562" stroke="#333" stroke-width="2.8"/>
<line x1="1383.1" y1="3571.7" x2="1383.1" y2="3596" stroke="#666" stroke-width="2.2"/>
<line x1="1389.5" y1="3587" x2="1389.5" y2="3596" stroke="#444" stroke-width="2.2"/>
<text transform="translate(1386.1 3544) rotate(-90) scale(1.0 1)" font-size="32" font-weight="normal" fill="#000" stroke="#000" stroke-width="1.4">3632.8</text>
<line x1="1418.5" y1="3549.2" x2="1418.5" y2="3562" stroke="#333" stroke-width="2.8"/>
<line x1="1422.7" y1="3572.6" x2="1422.7" y2="3596" stroke="#666" stroke-width="2.2"/>
<line x1="1429.1" y1="3588" x2="1429.1" y2="3596" stroke="#444" stroke-width="2.2"/>
<text transform="translate(1433.9 3546.5) rotate(-90) scale(1.0 1)" font-size="29" font-weight="normal" fill="#000" stroke="#000" stroke-width="1.4">3732.8</text>
<line x1="1459.3" y1="3555" x2="1459.3" y2="3568" stroke="#333" stroke-width="2.8"/>
<line x1="1463.5" y1="3575.5" x2="1463.5" y2="3596" stroke="#666" stroke-width="2.2"/>
<line x1="1469.9" y1="3589" x2="1469.9" y2="3596" stroke="#444" stroke-width="2.2"/>
<text transform="translate(1471.7 3553.5) rotate(-90) scale(1.0 1)" font-size="29" font-weight="normal" fill="#000" stroke="#000" stroke-width="1.4">3832.9</text>
<line x1="1500" y1="3561" x2="1500" y2="3572" stroke="#333" stroke-width="2.8"/>
<line x1="1510.6" y1="3590" x2="1510.6" y2="3596" stroke="#444" stroke-width="2.2"/>
<text transform="translate(1509.3 3559.5) rotate(-90) scale(1.0 1)" font-size="32" font-weight="normal" fill="#000" stroke="#000" stroke-width="1.4">3933.0</text>
<line x1="1541" y1="3566.7" x2="1541" y2="3577" stroke="#333" stroke-width="2.8"/>
<line x1="1551.6" y1="3590" x2="1551.6" y2="3596" stroke="#444" stroke-width="2.2"/>
<text transform="translate(1546.7 3566) rotate(-90) scale(1.0 1)" font-size="32" font-weight="normal" fill="#000" stroke="#000" stroke-width="1.4">4033.0</text>
<line x1="1580.6" y1="3566" x2="1580.6" y2="3577" stroke="#333" stroke-width="2.8"/>
<line x1="1591.2" y1="3591" x2="1591.2" y2="3596" stroke="#444" stroke-width="2.2"/>
<text transform="translate(1596 3565) rotate(-90) scale(1.0 1)" font-size="29" font-weight="normal" fill="#000" stroke="#000" stroke-width="1.4">4133.1</text>
<line x1="1620.6" y1="3572.5" x2="1620.6" y2="3582" stroke="#333" stroke-width="2.8"/>
<line x1="1631.2" y1="3591" x2="1631.2" y2="3596" stroke="#444" stroke-width="2.2"/>
<text transform="translate(1627.1 3572.5) rotate(-90) scale(1.0 1)" font-size="32" font-weight="normal" fill="#000" stroke="#000" stroke-width="1.4">4233.1</text>
<line x1="1662.2" y1="3576.4" x2="1662.2" y2="3584" stroke="#333" stroke-width="2.8"/>
<line x1="1672.8" y1="3592" x2="1672.8" y2="3596" stroke="#444" stroke-width="2.2"/>
<text transform="translate(1678.7 3574) rotate(-90) scale(1.0 1)" font-size="32" font-weight="normal" fill="#000" stroke="#000" stroke-width="1.4">4333.2</text>
<line x1="1702.2" y1="3579" x2="1702.2" y2="3586" stroke="#333" stroke-width="2.8"/>
<line x1="1712.8" y1="3592" x2="1712.8" y2="3596" stroke="#444" stroke-width="2.2"/>
<text transform="translate(1717.7 3578) rotate(-90) scale(1.0 1)" font-size="30.5" font-weight="normal" fill="#000" stroke="#000" stroke-width="1.4">4433.2</text>
<line x1="1743" y1="3582.3" x2="1743" y2="3587" stroke="#333" stroke-width="2.8"/>
<line x1="1753.6" y1="3593" x2="1753.6" y2="3596" stroke="#444" stroke-width="2.2"/>
<text transform="translate(1758.5 3581.5) rotate(-90) scale(1.0 1)" font-size="32" font-weight="normal" fill="#000" stroke="#000" stroke-width="1.4">4533.3</text>
<line x1="1783.9" y1="3584.2" x2="1783.9" y2="3590" stroke="#333" stroke-width="2.8"/>
<line x1="1794.5" y1="3593" x2="1794.5" y2="3596" stroke="#444" stroke-width="2.2"/>
<text transform="translate(1797.3 3583) rotate(-90) scale(1.0 1)" font-size="32" font-weight="normal" fill="#000" stroke="#000" stroke-width="1.4">4633.3</text>
<line x1="1824.7" y1="3586" x2="1824.7" y2="3591" stroke="#333" stroke-width="2.8"/>
<text transform="translate(1840.9 3580) rotate(-90) scale(1.0 1)" font-size="29" font-weight="normal" fill="#000" stroke="#000" stroke-width="1.4">4733.4</text>
<line x1="1865.5" y1="3588" x2="1865.5" y2="3592" stroke="#333" stroke-width="2.8"/>
<text transform="translate(1880 3587) rotate(-90) scale(1.0 1)" font-size="32" font-weight="normal" fill="#000" stroke="#000" stroke-width="1.4">4833.4</text>
<line x1="1906.8" y1="3589" x2="1906.8" y2="3593" stroke="#333" stroke-width="2.8"/>
<text transform="translate(1921 3589) rotate(-90) scale(1.0 1)" font-size="32" font-weight="normal" fill="#000" stroke="#000" stroke-width="1.4">4933.5</text>
<line x1="1947" y1="3590" x2="1947" y2="3594" stroke="#333" stroke-width="2.8"/>
<text transform="translate(1961.7 3589) rotate(-90) scale(1.0 1)" font-size="32" font-weight="normal" fill="#000" stroke="#000" stroke-width="1.4">5033.5</text>
<line x1="1988" y1="3591" x2="1988" y2="3595" stroke="#333" stroke-width="2.8"/>
<text transform="translate(2001.9 3589) rotate(-90) scale(1.0 1)" font-size="32" font-weight="normal" fill="#000" stroke="#000" stroke-width="1.4">5133.6</text>
<text transform="translate(2042.7 3589) rotate(-90) scale(1.0 1)" font-size="32" font-weight="normal" fill="#000" stroke="#000" stroke-width="1.4">5233.6</text>
<text transform="translate(2084.3 3590.5) rotate(-90) scale(1.0 1)" font-size="32" font-weight="normal" fill="#000" stroke="#000" stroke-width="1.4">5333.7</text>
<text transform="translate(2124.3 3590.5) rotate(-90) scale(1.0 1)" font-size="32" font-weight="normal" fill="#000" stroke="#000" stroke-width="1.4">5433.8</text>
<path d="M248.9 3574.9 L251.1 3574.9 L251.6 3590.7 L252.5 3596 L247.5 3596 L248.4 3590.7Z M278.2 3567.7 L280.4 3567.7 L280.9 3588.9 L281.8 3596 L276.8 3596 L277.7 3588.9Z M316.3 3562 L318.5 3562 L319 3587.5 L319.9 3596 L314.9 3596 L315.8 3587.5Z M357.9 3562 L360.1 3562 L360.6 3587.5 L361.5 3596 L356.5 3596 L357.4 3587.5Z M396.4 3562 L398.6 3562 L399.1 3587.5 L400 3596 L395 3596 L395.9 3587.5Z M438.7 3562 L440.9 3562 L441.4 3587.5 L442.3 3596 L437.3 3596 L438.2 3587.5Z M478.7 3562 L480.9 3562 L481.4 3587.5 L482.3 3596 L477.3 3596 L478.2 3587.5Z M519.5 3562 L521.7 3562 L522.2 3587.5 L523.1 3596 L518.1 3596 L519 3587.5Z M559.9 3562 L562.1 3562 L562.6 3587.5 L563.5 3596 L558.5 3596 L559.4 3587.5Z M599.9 3565.8 L602.1 3565.8 L602.6 3588.5 L603.5 3596 L598.5 3596 L599.4 3588.5Z M641.6 3569.2 L643.8 3569.2 L644.3 3589.3 L645.2 3596 L640.2 3596 L641.1 3589.3Z M682.4 3570.1 L684.6 3570.1 L685.1 3589.5 L686 3596 L681 3596 L681.9 3589.5Z M723.2 3571.4 L725.4 3571.4 L725.9 3589.9 L726.8 3596 L721.8 3596 L722.7 3589.9Z M763.2 3571.8 L765.4 3571.8 L765.9 3589.9 L766.8 3596 L761.8 3596 L762.7 3589.9Z M802.9 3577.2 L805.1 3577.2 L805.6 3591.3 L806.5 3596 L801.5 3596 L802.4 3591.3Z M843.7 3577.6 L845.9 3577.6 L846.4 3591.4 L847.3 3596 L842.3 3596 L843.2 3591.4Z M883.8 3578.8 L886 3578.8 L886.5 3591.7 L887.4 3596 L882.4 3596 L883.3 3591.7Z M924.6 3580.1 L926.8 3580.1 L927.3 3592 L928.2 3596 L923.2 3596 L924.1 3592Z M965.4 3581.9 L967.6 3581.9 L968.1 3592.5 L969 3596 L964 3596 L964.9 3592.5Z M1005.4 3583.1 L1007.6 3583.1 L1008.1 3592.8 L1009 3596 L1004 3596 L1004.9 3592.8Z M1045.9 3584.3 L1048.1 3584.3 L1048.6 3593.1 L1049.5 3596 L1044.5 3596 L1045.4 3593.1Z M1086.6 3585.6 L1088.8 3585.6 L1089.3 3593.4 L1090.2 3596 L1085.2 3596 L1086.1 3593.4Z M1126.7 3586.6 L1128.9 3586.6 L1129.4 3593.6 L1130.3 3596 L1125.3 3596 L1126.2 3593.6Z M1167.5 3587.5 L1169.7 3587.5 L1170.2 3593.9 L1171.1 3596 L1166.1 3596 L1167 3593.9Z M1208.3 3587.9 L1210.5 3587.9 L1211 3594 L1211.9 3596 L1206.9 3596 L1207.8 3594Z M1248.3 3588.4 L1250.5 3588.4 L1251 3594.1 L1251.9 3596 L1246.9 3596 L1247.8 3594.1Z M1289.1 3588.9 L1291.3 3588.9 L1291.8 3594.2 L1292.7 3596 L1287.7 3596 L1288.6 3594.2Z" fill="#4a4a4a"/>
<path d="M255.4 3500 L258.6 3500 L259.4 3543.2 L261 3576.8 L261.2 3596 L253.6 3596 L254.8 3576.8 L255.2 3538.4Z M284.7 3271 L287.9 3271 L288.7 3417.2 L290.3 3531 L292.9 3596 L280.9 3596 L284.1 3531 L284.5 3401Z M296.2 3505 L298.7 3505 L299.3 3573.3 L300.4 3596 L294.4 3596 L295.5 3573.3Z M322.8 3535 L326 3535 L326.8 3562.4 L328.4 3583.8 L328.1 3596 L321.4 3596 L322.2 3583.8 L322.6 3559.4Z M334.2 3475.3 L336.8 3475.3 L337.4 3565.8 L338.5 3596 L332.5 3596 L333.6 3565.8Z M365 2962 L368.2 2962 L369.4 3247.3 L372 3469.2 L374.6 3596 L360.6 3596 L363.8 3469.2 L364.2 3215.6Z M375.9 3457.8 L378.4 3457.8 L379 3561.5 L380.1 3596 L374.1 3596 L375.2 3561.5Z M403.5 2915.5 L406.7 2915.5 L407.9 3221.7 L410.5 3459.9 L413.1 3596 L399.1 3596 L402.3 3459.9 L402.7 3187.7Z M414.4 3459.5 L416.9 3459.5 L417.5 3561.9 L418.6 3596 L412.6 3596 L413.7 3561.9Z M445 2525 L448.6 2525 L449 3006.9 L450.3 3381.8 L453.4 3596 L441.4 3596 L444.6 3381.8 L445 2953.4Z M456.7 3470.9 L459.2 3470.9 L459.8 3564.7 L460.9 3596 L454.9 3596 L456 3564.7Z M485.8 3107.8 L489 3107.8 L490.2 3327.5 L492.8 3498.4 L495.4 3596 L481.4 3596 L484.6 3498.4 L485 3303.1Z M496.7 3499.7 L499.2 3499.7 L499.8 3571.9 L500.9 3596 L494.9 3596 L496 3571.9Z M526.6 3203 L529.8 3203 L531 3379.8 L533.6 3517.4 L536.2 3596 L522.2 3596 L525.4 3517.4 L525.8 3360.2Z M537.5 3526 L540 3526 L540.6 3578.5 L541.7 3596 L535.7 3596 L536.8 3578.5Z M567 3302 L570.2 3302 L571.4 3434.3 L574 3537.2 L576.6 3596 L562.6 3596 L565.8 3537.2 L566.2 3419.6Z M577.9 3543.5 L580.4 3543.5 L581 3582.9 L582.1 3596 L576.1 3596 L577.2 3582.9Z M606.2 3152.5 L609.8 3152.5 L610.2 3352.1 L611.5 3507.3 L614.6 3596 L602.6 3596 L605.8 3507.3 L606.2 3329.9Z M617.9 3555.7 L620.4 3555.7 L621 3585.9 L622.1 3596 L616.1 3596 L617.2 3585.9Z M648.7 3390 L651.9 3390 L653.1 3482.7 L655.7 3554.8 L657.6 3596 L644.9 3596 L647.5 3554.8 L647.9 3472.4Z M659.6 3561.5 L662.1 3561.5 L662.7 3587.4 L663.8 3596 L657.8 3596 L658.9 3587.4Z M689.5 3417 L692.7 3417 L693.9 3497.6 L696.5 3560.2 L698 3596 L686 3596 L688.3 3560.2 L688.7 3488.6Z M700.4 3565.7 L702.9 3565.7 L703.5 3588.4 L704.6 3596 L698.6 3596 L699.7 3588.4Z M730.3 3508 L733.5 3508 L734.7 3547.6 L737.3 3578.4 L737.4 3596 L727.9 3596 L729.1 3578.4 L729.5 3543.2Z M741.1 3564.5 L743.6 3564.5 L744.3 3588.1 L745.4 3596 L739.4 3596 L740.5 3588.1Z M770.3 3327.7 L773.5 3327.7 L774.7 3448.4 L777.3 3542.3 L779.9 3596 L765.9 3596 L769.1 3542.3 L769.5 3435Z M781.1 3567.1 L783.6 3567.1 L784.3 3588.8 L785.4 3596 L779.4 3596 L780.5 3588.8Z M810 3407 L813.2 3407 L814.4 3492.1 L817 3558.2 L818.6 3596 L806.4 3596 L808.8 3558.2 L809.2 3482.6Z M820.9 3567.1 L823.4 3567.1 L824 3588.8 L825.1 3596 L819.1 3596 L820.2 3588.8Z M850.8 3458 L854 3458 L855.2 3520.1 L857.8 3568.4 L858.7 3596 L847.8 3596 L849.6 3568.4 L850 3513.2Z M861.6 3569.7 L864.1 3569.7 L864.8 3589.4 L865.9 3596 L859.9 3596 L861 3589.4Z M890.9 3502.6 L894.1 3502.6 L895.3 3544.6 L897.9 3577.3 L898.1 3596 L888.5 3596 L889.7 3577.3 L890.1 3540Z M901.8 3574.8 L904.2 3574.8 L904.9 3590.7 L906 3596 L900 3596 L901.1 3590.7Z M931.7 3438.5 L934.9 3438.5 L936.1 3509.4 L938.7 3564.5 L939.9 3596 L928.5 3596 L930.5 3564.5 L930.9 3501.5Z M942.6 3575.8 L945.1 3575.8 L945.7 3590.9 L946.8 3596 L940.8 3596 L941.9 3590.9Z M972.5 3535.6 L975.7 3535.6 L976.9 3562.8 L979.5 3583.9 L979.2 3596 L970.5 3596 L971.3 3583.9 L971.7 3559.8Z M983.4 3579.3 L985.9 3579.3 L986.5 3591.8 L987.6 3596 L981.6 3596 L982.7 3591.8Z M1012.5 3489 L1015.7 3489 L1016.9 3537.2 L1019.5 3574.6 L1019.9 3596 L1009.9 3596 L1011.3 3574.6 L1011.7 3531.8Z M1023.3 3581.2 L1025.8 3581.2 L1026.5 3592.3 L1027.6 3596 L1021.6 3596 L1022.7 3592.3Z M1053 3516 L1056.2 3516 L1057.4 3552 L1060 3580 L1060 3596 L1050.8 3596 L1051.8 3580 L1052.2 3548Z M1063.8 3583.7 L1066.3 3583.7 L1067 3592.9 L1068.1 3596 L1062.1 3596 L1063.2 3592.9Z M1093.7 3520 L1096.9 3520 L1098.1 3554.2 L1100.7 3580.8 L1100.6 3596 L1091.5 3596 L1092.5 3580.8 L1092.9 3550.4Z M1133.8 3564.8 L1137 3564.8 L1138.2 3578.8 L1140.8 3589.8 L1140 3596 L1132.2 3596 L1132.6 3589.8 L1133 3577.3Z M1174.6 3539.5 L1177.8 3539.5 L1179 3564.9 L1181.6 3584.7 L1181.2 3596 L1172.6 3596 L1173.4 3584.7 L1173.8 3562.1Z M1215.4 3570.6 L1218.6 3570.6 L1219.8 3582 L1222.4 3590.9 L1221.5 3596 L1213.8 3596 L1214.2 3590.9 L1214.6 3580.8Z M1255.4 3551 L1258.6 3551 L1259.8 3571.2 L1262.4 3587 L1261.8 3596 L1253.6 3596 L1254.2 3587 L1254.6 3569Z M1296.2 3559 L1299.4 3559 L1300.6 3575.7 L1303.2 3588.6 L1302.5 3596 L1294.5 3596 L1295 3588.6 L1295.4 3573.8Z M1336.4 3551 L1339.6 3551 L1340.8 3571.2 L1343.4 3587 L1342.8 3596 L1334.6 3596 L1335.2 3587 L1335.6 3569Z M1377.9 3560 L1381.1 3560 L1382.3 3576.2 L1384.9 3588.8 L1384.2 3596 L1376.2 3596 L1376.7 3588.8 L1377.1 3574.4Z M1417.5 3560 L1420.7 3560 L1421.9 3576.2 L1424.5 3588.8 L1423.8 3596 L1415.8 3596 L1416.3 3588.8 L1416.7 3574.4Z M1458.3 3566 L1461.5 3566 L1462.7 3579.5 L1465.3 3590 L1464.5 3596 L1456.7 3596 L1457.1 3590 L1457.5 3578Z M1499 3570 L1502.2 3570 L1503.4 3581.7 L1506 3590.8 L1505.1 3596 L1497.4 3596 L1497.8 3590.8 L1498.2 3580.4Z M1540 3575 L1543.2 3575 L1544.4 3584.4 L1547 3591.8 L1546.1 3596 L1538.5 3596 L1538.8 3591.8 L1539.2 3583.4Z M1579.6 3575 L1582.8 3575 L1584 3584.4 L1586.6 3591.8 L1585.7 3596 L1578.1 3596 L1578.4 3591.8 L1578.8 3583.4Z M1619.6 3580 L1622.8 3580 L1624 3587.2 L1626.6 3592.8 L1625.6 3596 L1618.1 3596 L1618.4 3592.8 L1618.8 3586.4Z M1661.2 3582 L1664.4 3582 L1665.6 3588.3 L1668.2 3593.2 L1667.2 3596 L1659.8 3596 L1660 3593.2 L1660.4 3587.6Z M1701.2 3584 L1704.4 3584 L1705.6 3589.4 L1708.2 3593.6 L1707.1 3596 L1699.8 3596 L1700 3593.6 L1700.4 3588.8Z M1742 3585 L1745.2 3585 L1746.4 3589.9 L1749 3593.8 L1747.9 3596 L1740.6 3596 L1740.8 3593.8 L1741.2 3589.4Z M1782.9 3588 L1786.1 3588 L1787.3 3591.6 L1789.9 3594.4 L1788.8 3596 L1781.6 3596 L1781.7 3594.4 L1782.1 3591.2Z M1823.7 3589 L1826.9 3589 L1828.1 3592.2 L1830.7 3594.6 L1829.6 3596 L1822.4 3596 L1822.5 3594.6 L1822.9 3591.8Z M1864.5 3590 L1867.7 3590 L1868.9 3592.7 L1871.5 3594.8 L1870.3 3596 L1863.2 3596 L1863.3 3594.8 L1863.7 3592.4Z M1905.8 3591 L1909 3591 L1910.2 3593.2 L1912.8 3595 L1911.6 3596 L1904.5 3596 L1904.6 3595 L1905 3593Z M1946 3592 L1949.2 3592 L1950.4 3593.8 L1953 3595.2 L1951.8 3596 L1944.7 3596 L1944.8 3595.2 L1945.2 3593.6Z" fill="#000"/>
<line x1="246.6" y1="3333" x2="246.6" y2="3440" stroke="#666" stroke-width="2.2"/>
<path d="M242 3438.5 L247 3438.5 L247.7 3556.6 L249 3596 L240 3596 L241.3 3556.6Z" fill="#222"/>
<path d="M239.5 3530 L245.5 3530 L245.8 3579.5 L246.5 3596 L238.5 3596 L239.2 3579.5Z" fill="#000"/>
<path d="M232 3570 L235 3570 L235.5 3589.5 L236.5 3596 L230.5 3596 L231.5 3589.5Z" fill="#000"/>
<line x1="384.6" y1="2956" x2="384.6" y2="3590" stroke="#999" stroke-width="2.4"/>
<line x1="424.6" y1="2911.6" x2="424.6" y2="3590" stroke="#aaa" stroke-width="2.4"/>
<text transform="translate(393.5 2943.5) rotate(-90) scale(1.0 1)" font-size="27" font-weight="bold" fill="#000" >1182.3</text>
<text transform="translate(431.2 2909.5) rotate(-90) scale(1.0 1)" font-size="27" font-weight="bold" fill="#000" >1282.3</text>
</g>
</svg>
</body></html>
